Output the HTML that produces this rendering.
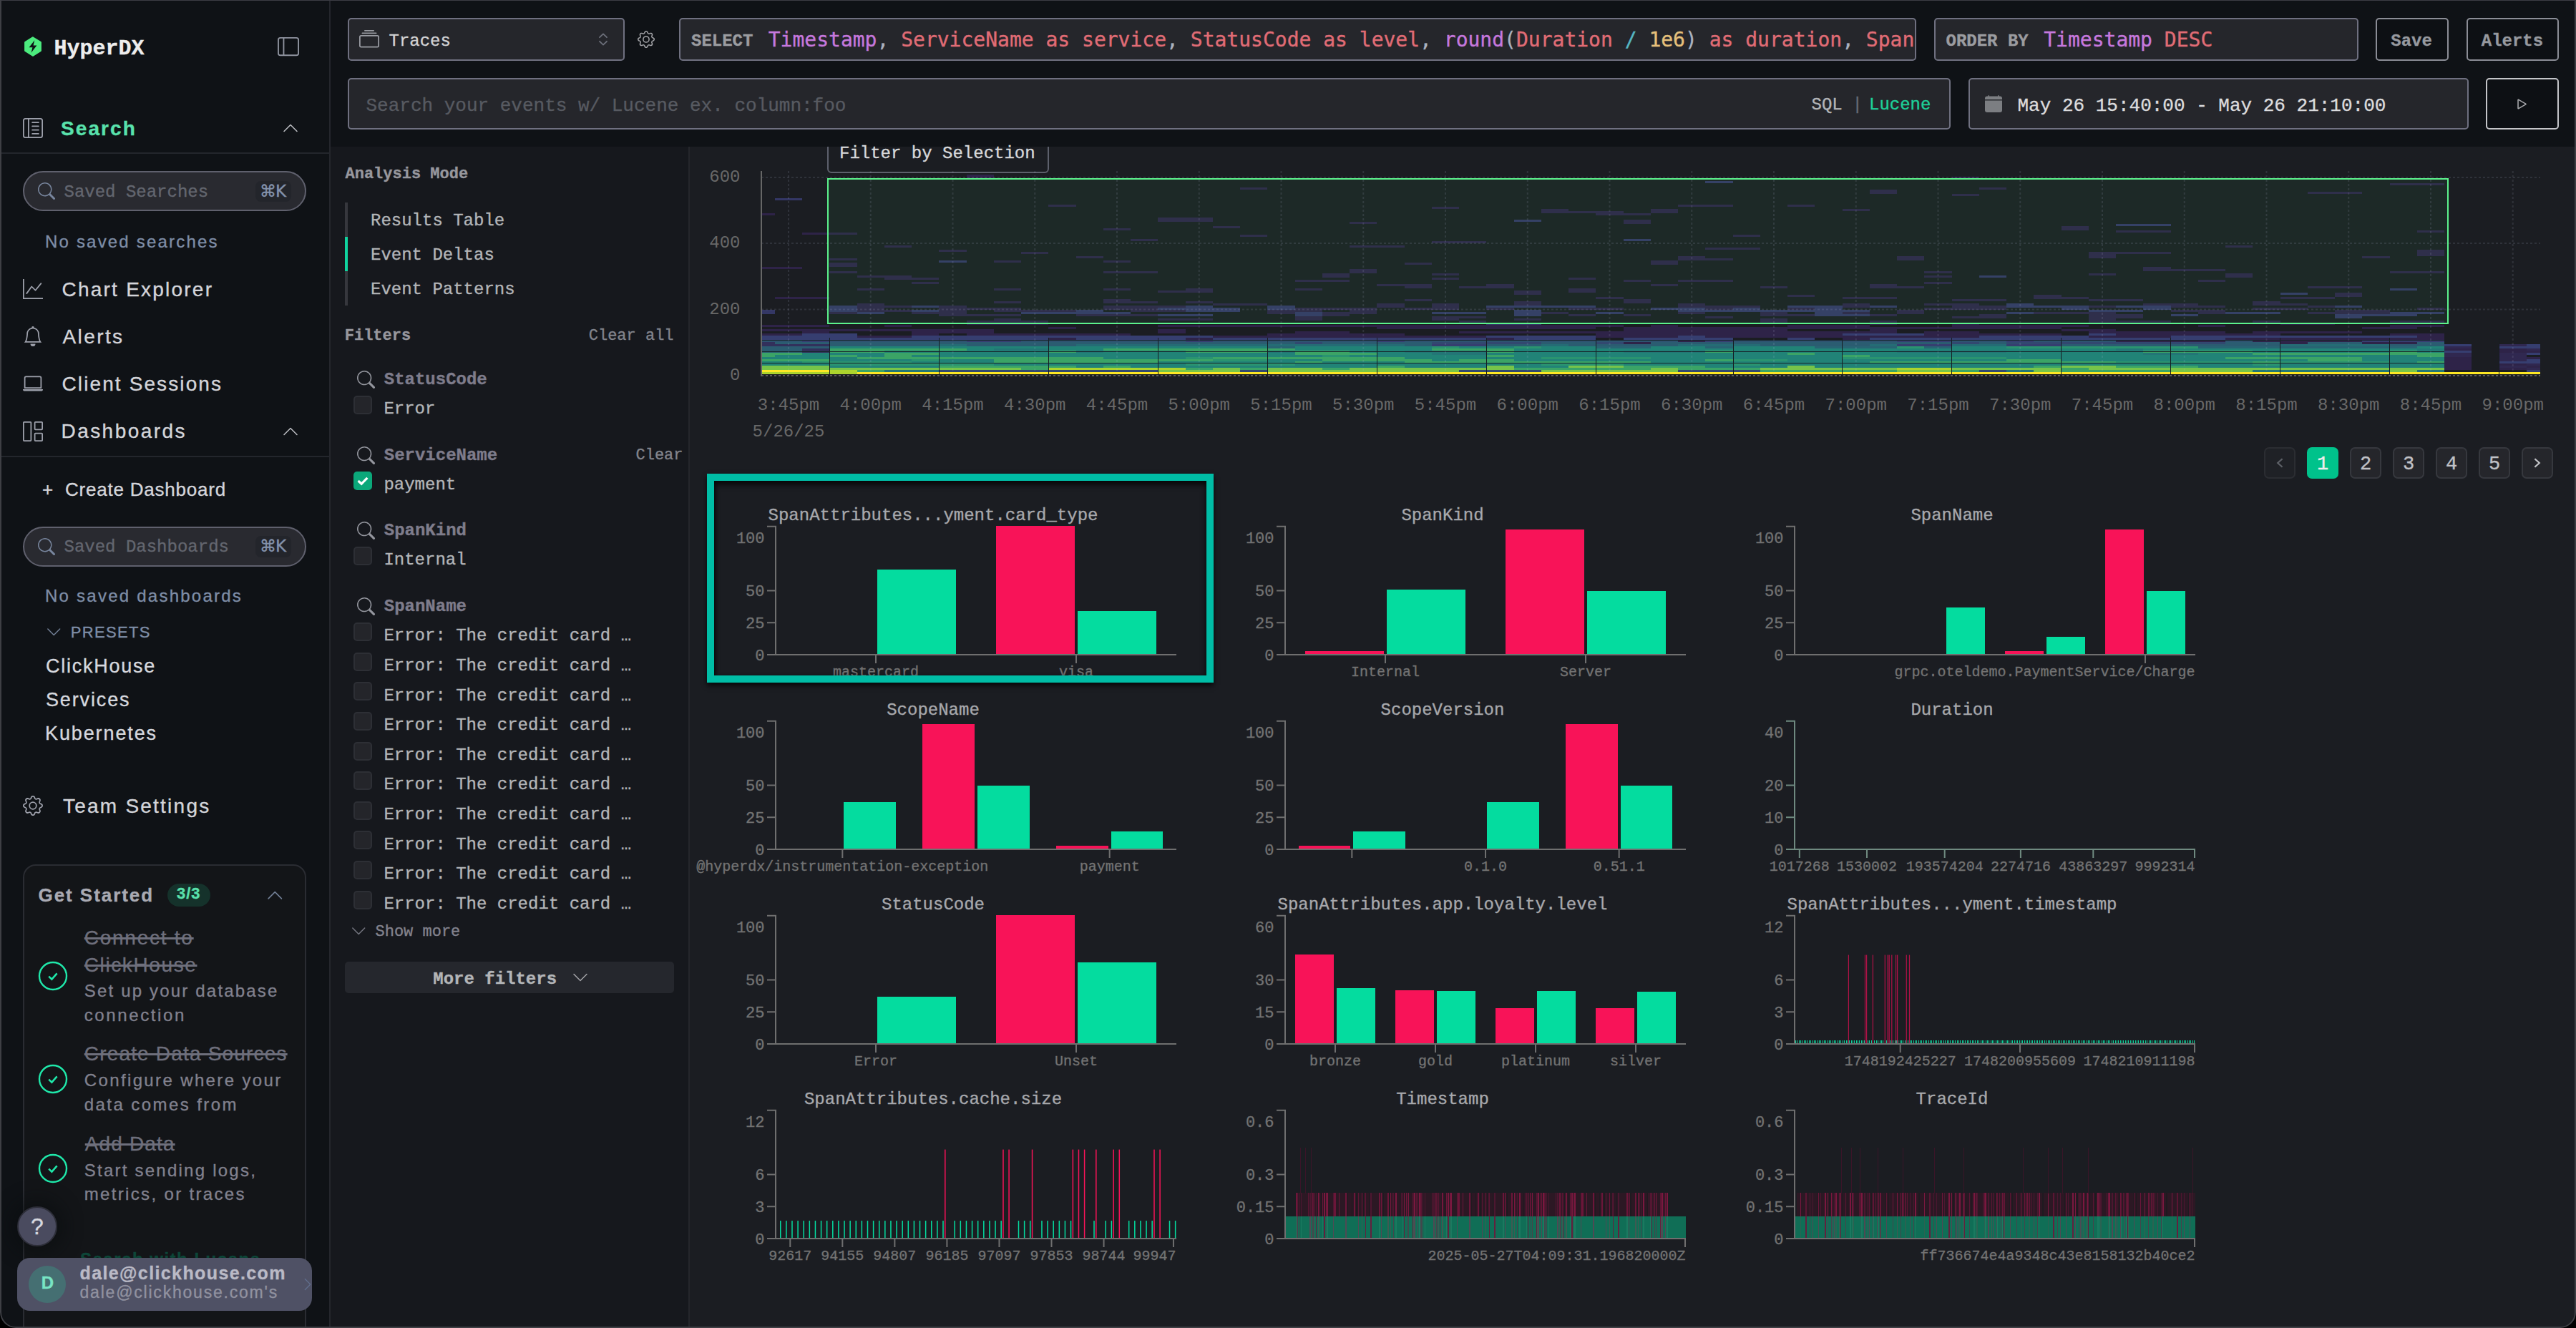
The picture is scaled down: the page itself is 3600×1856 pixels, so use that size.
<!DOCTYPE html>
<html lang="en"><head><meta charset="utf-8"><title>HyperDX - Search</title><meta name="viewport" content="width=3600"><style>
html,body{margin:0;padding:0;background:#000;}
body{width:3600px;height:1856px;overflow:hidden;position:relative;font-family:'Liberation Mono',monospace;}
#app{position:absolute;left:0;top:0;width:3600px;height:1856px;overflow:hidden;background:#0f1216;border-radius:0 0 22px 22px;}
.abs,.t,.i{position:absolute;}
.t{white-space:pre;margin:0;-webkit-text-stroke:0.35px currentColor;}
svg.ch text{stroke:currentColor;stroke-width:0.35px;fill:currentColor;}
.i{display:block;overflow:visible;}
h1,h2,h3,p{margin:0;}
#frame{position:absolute;left:0;top:-20px;width:3600px;height:1876px;box-sizing:border-box;border:2px solid #3e3f44;border-radius:22px;pointer-events:none;}
#frametop{position:absolute;left:0;top:0;width:3600px;height:1px;background:#3c3d44;}
</style></head><body><div id="app">
<aside class="abs" style="left:0;top:0;width:460px;height:1856px;background:#0f1216;">
<svg class="i" style="left:31px;top:49px" width="30" height="32" viewBox="0 0 30 32"><path d="M15 2.2 L26.1 8.9 a1.6 1.6 0 0 1 .8 1.4 V21.7 a1.6 1.6 0 0 1 -.8 1.4 L15.8 29.4 a1.6 1.6 0 0 1 -1.6 0 L3.9 23.1 a1.6 1.6 0 0 1 -.8 -1.4 V10.3 a1.6 1.6 0 0 1 .8 -1.4 L14.2 2.6 a1.6 1.6 0 0 1 1.6 0 Z" fill="#4ceb7e"/><path d="M17.3 7.2 L9.6 17.2 H14.4 L12.6 24.8 L20.4 14.6 H15.6 Z" fill="#0f1216"/></svg>
<h1 class="t" style="left:75.5px;top:53.02px;font:700 30px/30px 'Liberation Mono',monospace;color:#ededed;">HyperDX</h1>
<svg class="i" style="left:388px;top:50px;" width="30" height="30" viewBox="0 0 16 16" fill="#9094a0"><path d="M0 3a2 2 0 0 1 2-2h12a2 2 0 0 1 2 2v10a2 2 0 0 1-2 2H2a2 2 0 0 1-2-2V3zm5-1v12h9a1 1 0 0 0 1-1V3a1 1 0 0 0-1-1H5zM4 2H2a1 1 0 0 0-1 1v10a1 1 0 0 0 1 1h2V2z"/></svg>
<svg class="i" style="left:32px;top:165px;" width="28" height="28" viewBox="0 0 16 16" fill="#9ea1ac"><path d="M12.5 3a.5.5 0 0 1 0 1h-5a.5.5 0 0 1 0-1h5zm0 3a.5.5 0 0 1 0 1h-5a.5.5 0 0 1 0-1h5zm.5 3.5a.5.5 0 0 0-.5-.5h-5a.5.5 0 0 0 0 1h5a.5.5 0 0 0 .5-.5zm-.5 2.5a.5.5 0 0 1 0 1h-5a.5.5 0 0 1 0-1h5z M16 2a2 2 0 0 0-2-2H2a2 2 0 0 0-2 2v12a2 2 0 0 0 2 2h12a2 2 0 0 0 2-2V2zM4 1v14H2a1 1 0 0 1-1-1V2a1 1 0 0 1 1-1h2zm1 0h9a1 1 0 0 1 1 1v12a1 1 0 0 1-1 1H5V1z"/></svg>
<span class="t" style="left:85px;top:166.3px;font:700 28px/28px 'Liberation Sans',sans-serif;color:#59e1ac;letter-spacing:2.1px;">Search</span>
<svg class="i" style="left:394px;top:167px;" width="24" height="24" viewBox="0 0 16 16" fill="#c1c2c7" fill-rule="evenodd"><path d="M7.646 4.646a.5.5 0 0 1 .708 0l6 6a.5.5 0 0 1-.708.708L8 5.707l-5.646 5.647a.5.5 0 0 1-.708-.708l6-6z"/></svg>
<div class="abs" style="left:2px;top:213px;width:458px;height:2px;background:#23262c"></div>
<div class="abs" style="left:32px;top:239px;width:396px;height:56px;box-sizing:border-box;border:2px solid #5f606d;border-radius:28px;background:#292a30"></div>
<svg class="i" style="left:53px;top:255px;" width="24" height="24" viewBox="0 0 16 16" fill="#78869e"><path d="M11.742 10.344a6.5 6.5 0 1 0-1.397 1.398h-.001c.03.04.062.078.098.115l3.85 3.85a1 1 0 0 0 1.415-1.414l-3.85-3.85a1.007 1.007 0 0 0-.115-.1zM12 6.5a5.5 5.5 0 1 1-11 0 5.5 5.5 0 0 1 11 0z"/></svg>
<span class="t" style="left:89.5px;top:256.62px;font:400 24px/24px 'Liberation Mono',monospace;color:#63666f;">Saved Searches</span>
<div class="abs" style="left:357px;top:252.5px;width:50px;height:29.5px;border-radius:8px;background:#23252b"></div>
<span class="t" style="left:363px;top:255.54px;font:400 23px/23px 'DejaVu Sans',sans-serif;color:#8392ac;letter-spacing:-1px;">⌘K</span>
<span class="t" style="left:63px;top:325.68px;font:400 24px/24px 'Liberation Sans',sans-serif;color:#7e8da6;letter-spacing:2.19px;">No saved searches</span>
<svg class="i" style="left:32px;top:390px;" width="28" height="28" viewBox="0 0 16 16" fill="#9ea1ac"><path d="M0 0h1v15h15v1H0V0zm14.817 3.113a.5.5 0 0 1 .07.704l-4.5 5.5a.5.5 0 0 1-.74.037L7.06 6.767l-3.656 5.027a.5.5 0 0 1-.808-.588l4-5.5a.5.5 0 0 1 .758-.06l2.609 2.61 4.15-5.073a.5.5 0 0 1 .704-.07z"/></svg>
<span class="t" style="left:86.5px;top:391.3px;font:400 28px/28px 'Liberation Sans',sans-serif;color:#d4d5da;letter-spacing:2.23px;">Chart Explorer</span>
<svg class="i" style="left:32px;top:456px;" width="28" height="28" viewBox="0 0 16 16" fill="#9ea1ac"><path d="M8 16a2 2 0 0 0 2-2H6a2 2 0 0 0 2 2zM8 1.918l-.797.161A4.002 4.002 0 0 0 4 6c0 .628-.134 2.197-.459 3.742-.16.767-.376 1.566-.663 2.258h10.244c-.287-.692-.502-1.49-.663-2.258C12.134 8.197 12 6.628 12 6a4.002 4.002 0 0 0-3.203-3.92L8 1.917zM14.22 12c.223.447.481.801.78 1H1c.299-.199.557-.553.78-1C2.68 10.2 3 6.88 3 6c0-2.42 1.72-4.44 4.005-4.901a1 1 0 1 1 1.99 0A5.002 5.002 0 0 1 13 6c0 .88.32 4.2 1.22 6z"/></svg>
<span class="t" style="left:87.5px;top:457.3px;font:400 28px/28px 'Liberation Sans',sans-serif;color:#d4d5da;letter-spacing:2.4px;">Alerts</span>
<svg class="i" style="left:32px;top:522px;" width="28" height="28" viewBox="0 0 16 16" fill="#9ea1ac"><path d="M13.5 3a.5.5 0 0 1 .5.5V11H2V3.5a.5.5 0 0 1 .5-.5h11zm-11-1A1.5 1.5 0 0 0 1 3.5V12h14V3.5A1.5 1.5 0 0 0 13.5 2h-11zM0 12.5h16a1.5 1.5 0 0 1-1.5 1.5h-13A1.5 1.5 0 0 1 0 12.5z"/></svg>
<span class="t" style="left:86.5px;top:523.3px;font:400 28px/28px 'Liberation Sans',sans-serif;color:#d4d5da;letter-spacing:2.11px;">Client Sessions</span>
<svg class="i" style="left:32px;top:589px;" width="28" height="28" viewBox="0 0 16 16" fill="#9ea1ac"><path d="M6 1H1v14h5V1zm9 0h-5v5h5V1zm0 9v5h-5v-5h5zM0 1a1 1 0 0 1 1-1h5a1 1 0 0 1 1 1v14a1 1 0 0 1-1 1H1a1 1 0 0 1-1-1V1zm9 0a1 1 0 0 1 1-1h5a1 1 0 0 1 1 1v5a1 1 0 0 1-1 1h-5a1 1 0 0 1-1-1V1zm1 8a1 1 0 0 0-1 1v5a1 1 0 0 0 1 1h5a1 1 0 0 0 1-1v-5a1 1 0 0 0-1-1h-5z"/></svg>
<span class="t" style="left:85.5px;top:589.3px;font:400 28px/28px 'Liberation Sans',sans-serif;color:#d4d5da;letter-spacing:2.44px;">Dashboards</span>
<svg class="i" style="left:394px;top:590.5px;" width="24" height="24" viewBox="0 0 16 16" fill="#c1c2c7" fill-rule="evenodd"><path d="M7.646 4.646a.5.5 0 0 1 .708 0l6 6a.5.5 0 0 1-.708.708L8 5.707l-5.646 5.647a.5.5 0 0 1-.708-.708l6-6z"/></svg>
<div class="abs" style="left:2px;top:637px;width:458px;height:2px;background:#23262c"></div>
<span class="t" style="left:59px;top:670.99px;font:400 26px/26px 'Liberation Sans',sans-serif;color:#d4d5da;">+</span>
<span class="t" style="left:91px;top:671.24px;font:400 26px/26px 'Liberation Sans',sans-serif;color:#d4d5da;letter-spacing:0.78px;">Create Dashboard</span>
<div class="abs" style="left:32px;top:735.5px;width:396px;height:56px;box-sizing:border-box;border:2px solid #5f606d;border-radius:28px;background:#292a30"></div>
<svg class="i" style="left:53px;top:751.5px;" width="24" height="24" viewBox="0 0 16 16" fill="#78869e"><path d="M11.742 10.344a6.5 6.5 0 1 0-1.397 1.398h-.001c.03.04.062.078.098.115l3.85 3.85a1 1 0 0 0 1.415-1.414l-3.85-3.85a1.007 1.007 0 0 0-.115-.1zM12 6.5a5.5 5.5 0 1 1-11 0 5.5 5.5 0 0 1 11 0z"/></svg>
<span class="t" style="left:89.5px;top:753.12px;font:400 24px/24px 'Liberation Mono',monospace;color:#63666f;">Saved Dashboards</span>
<div class="abs" style="left:357px;top:749px;width:50px;height:29.5px;border-radius:8px;background:#23252b"></div>
<span class="t" style="left:363px;top:752.04px;font:400 23px/23px 'DejaVu Sans',sans-serif;color:#8392ac;letter-spacing:-1px;">⌘K</span>
<span class="t" style="left:63px;top:821.43px;font:400 24px/24px 'Liberation Sans',sans-serif;color:#7e8da6;letter-spacing:2.24px;">No saved dashboards</span>
<svg class="i" style="left:63.5px;top:871.5px;" width="22.5" height="22.5" viewBox="0 0 16 16" fill="#748299" fill-rule="evenodd"><path d="M1.646 4.646a.5.5 0 0 1 .708 0L8 10.293l5.646-5.647a.5.5 0 0 1 .708.708l-6 6a.5.5 0 0 1-.708 0l-6-6a.5.5 0 0 1 0-.708z"/></svg>
<span class="t" style="left:98.75px;top:872.63px;font:400 22px/22px 'Liberation Sans',sans-serif;color:#7e8da6;letter-spacing:1.33px;">PRESETS</span>
<span class="t" style="left:64px;top:917.89px;font:400 27px/27px 'Liberation Sans',sans-serif;color:#d6d8de;letter-spacing:1.75px;">ClickHouse</span>
<span class="t" style="left:64px;top:965.14px;font:400 27px/27px 'Liberation Sans',sans-serif;color:#d6d8de;letter-spacing:1.86px;">Services</span>
<span class="t" style="left:63px;top:1012.14px;font:400 27px/27px 'Liberation Sans',sans-serif;color:#d6d8de;letter-spacing:1.89px;">Kubernetes</span>
<svg class="i" style="left:32px;top:1112px;" width="28" height="28" viewBox="0 0 16 16" fill="#9ea1ac"><path d="M8 4.754a3.246 3.246 0 1 0 0 6.492 3.246 3.246 0 0 0 0-6.492zM5.754 8a2.246 2.246 0 1 1 4.492 0 2.246 2.246 0 0 1-4.492 0z M9.796 1.343c-.527-1.79-3.065-1.79-3.592 0l-.094.319a.873.873 0 0 1-1.255.52l-.292-.16c-1.64-.892-3.433.902-2.54 2.541l.159.292a.873.873 0 0 1-.52 1.255l-.319.094c-1.79.527-1.79 3.065 0 3.592l.319.094a.873.873 0 0 1 .52 1.255l-.16.292c-.892 1.64.901 3.434 2.541 2.54l.292-.159a.873.873 0 0 1 1.255.52l.094.319c.527 1.79 3.065 1.79 3.592 0l.094-.319a.873.873 0 0 1 1.255-.52l.292.16c1.64.893 3.434-.902 2.54-2.541l-.159-.292a.873.873 0 0 1 .52-1.255l.319-.094c1.79-.527 1.79-3.065 0-3.592l-.319-.094a.873.873 0 0 1-.52-1.255l.16-.292c.893-1.64-.902-3.433-2.541-2.54l-.292.159a.873.873 0 0 1-1.255-.52l-.094-.319zm-2.633.283c.246-.835 1.428-.835 1.674 0l.094.319a1.873 1.873 0 0 0 2.693 1.115l.291-.16c.764-.415 1.6.42 1.184 1.185l-.159.292a1.873 1.873 0 0 0 1.116 2.692l.318.094c.835.246.835 1.428 0 1.674l-.319.094a1.873 1.873 0 0 0-1.115 2.693l.16.291c.415.764-.42 1.6-1.185 1.184l-.291-.159a1.873 1.873 0 0 0-2.693 1.116l-.094.318c-.246.835-1.428.835-1.674 0l-.094-.319a1.873 1.873 0 0 0-2.692-1.115l-.292.16c-.764.415-1.6-.42-1.184-1.185l.159-.291A1.873 1.873 0 0 0 1.945 8.93l-.319-.094c-.835-.246-.835-1.428 0-1.674l.319-.094A1.873 1.873 0 0 0 3.06 4.377l-.16-.292c-.415-.764.42-1.6 1.185-1.184l.292.159a1.873 1.873 0 0 0 2.692-1.115l.094-.319z"/></svg>
<span class="t" style="left:88px;top:1113.3px;font:400 28px/28px 'Liberation Sans',sans-serif;color:#d4d5da;letter-spacing:2.23px;">Team Settings</span>
<section class="abs" style="left:32px;top:1207.5px;width:396px;height:700px;box-sizing:border-box;border:2px solid #2a2c32;border-radius:18px;background:#131518"></section>
<span class="t" style="left:53.5px;top:1237.99px;font:700 26px/26px 'Liberation Sans',sans-serif;color:#a9aab3;letter-spacing:1.95px;">Get Started</span>
<div class="abs" style="left:233.75px;top:1235px;width:60px;height:32px;border-radius:16px;background:#15322b"></div>
<span class="t" style="left:247px;top:1238.38px;font:700 22px/22px 'Liberation Sans',sans-serif;color:#59e1ac;letter-spacing:1px;">3/3</span>
<svg class="i" style="left:371.5px;top:1239px;" width="24.5" height="24.5" viewBox="0 0 16 16" fill="#748299" fill-rule="evenodd"><path d="M7.646 4.646a.5.5 0 0 1 .708 0l6 6a.5.5 0 0 1-.708.708L8 5.707l-5.646 5.647a.5.5 0 0 1-.708-.708l6-6z"/></svg>
<svg class="i" style="left:52px;top:1341.75px" width="44" height="44" viewBox="0 0 44 44"><circle cx="22" cy="22" r="19" fill="none" stroke="#1fe8aa" stroke-width="2.4"/><path d="M16.2 22.6 L20.4 26.6 L27.6 18.4" fill="none" stroke="#1fe8aa" stroke-width="2.6"/></svg>
<span class="t" style="left:117.75px;top:1296.8px;font:400 28px/28px 'Liberation Sans',sans-serif;color:#6e6f7c;letter-spacing:1.75px;text-decoration:line-through;text-decoration-thickness:2.5px;">Connect to</span>
<span class="t" style="left:117.75px;top:1335.05px;font:400 28px/28px 'Liberation Sans',sans-serif;color:#6e6f7c;letter-spacing:1.61px;text-decoration:line-through;text-decoration-thickness:2.5px;">ClickHouse</span>
<span class="t" style="left:117.75px;top:1373.43px;font:400 24px/24px 'Liberation Sans',sans-serif;color:#81818e;letter-spacing:2.18px;">Set up your database</span>
<span class="t" style="left:117.75px;top:1407.18px;font:400 24px/24px 'Liberation Sans',sans-serif;color:#81818e;letter-spacing:2.61px;">connection</span>
<svg class="i" style="left:52px;top:1485.8px" width="44" height="44" viewBox="0 0 44 44"><circle cx="22" cy="22" r="19" fill="none" stroke="#1fe8aa" stroke-width="2.4"/><path d="M16.2 22.6 L20.4 26.6 L27.6 18.4" fill="none" stroke="#1fe8aa" stroke-width="2.6"/></svg>
<span class="t" style="left:117.75px;top:1458.8px;font:400 28px/28px 'Liberation Sans',sans-serif;color:#6e6f7c;letter-spacing:1.18px;text-decoration:line-through;text-decoration-thickness:2.5px;">Create Data Sources</span>
<span class="t" style="left:117.75px;top:1498.18px;font:400 24px/24px 'Liberation Sans',sans-serif;color:#81818e;letter-spacing:2.37px;">Configure where your</span>
<span class="t" style="left:117.75px;top:1532.43px;font:400 24px/24px 'Liberation Sans',sans-serif;color:#81818e;letter-spacing:2.43px;">data comes from</span>
<svg class="i" style="left:52px;top:1611px" width="44" height="44" viewBox="0 0 44 44"><circle cx="22" cy="22" r="19" fill="none" stroke="#1fe8aa" stroke-width="2.4"/><path d="M16.2 22.6 L20.4 26.6 L27.6 18.4" fill="none" stroke="#1fe8aa" stroke-width="2.6"/></svg>
<span class="t" style="left:118.75px;top:1585.3px;font:400 28px/28px 'Liberation Sans',sans-serif;color:#6e6f7c;letter-spacing:1.14px;text-decoration:line-through;text-decoration-thickness:2.5px;">Add Data</span>
<span class="t" style="left:117.75px;top:1623.68px;font:400 24px/24px 'Liberation Sans',sans-serif;color:#81818e;letter-spacing:2.24px;">Start sending logs,</span>
<span class="t" style="left:117.75px;top:1657.43px;font:400 24px/24px 'Liberation Sans',sans-serif;color:#81818e;letter-spacing:2.34px;">metrics, or traces</span>
<div class="abs" style="left:24px;top:1686px;width:56px;height:56px;box-sizing:border-box;border:2px solid #2d2e39;border-radius:50%;background:#4a4b5f;box-shadow:0 0 24px 10px rgba(10,12,15,.55)"></div>
<span class="t" style="left:52px;top:1698.41px;font:400 32px/32px 'Liberation Sans',sans-serif;color:#d7d8df;transform:translateX(-50%);">?</span>
<span class="t" style="left:112px;top:1748.18px;font:700 24px/24px 'Liberation Sans',sans-serif;color:#0d4638;letter-spacing:1.5px;">Search with Lucene</span>
<div class="abs" style="left:24px;top:1758px;width:412px;height:74px;border-radius:18px;background:#4f5165;overflow:hidden"><div class="abs" style="left:16px;top:11px;width:52px;height:52px;border-radius:50%;background:#456f72"></div><svg class="i" style="left:396px;top:26.5px;" width="20" height="20" viewBox="0 0 16 16" fill="#606e8d" fill-rule="evenodd"><path d="M4.646 1.646a.5.5 0 0 1 .708 0l6 6a.5.5 0 0 1 0 .708l-6 6a.5.5 0 0 1-.708-.708L10.293 8 4.646 2.354a.5.5 0 0 1 0-.708z"/></svg></div>
<span class="t" style="left:57.75px;top:1781.18px;font:700 24px/24px 'Liberation Sans',sans-serif;color:#78e4c4;">D</span>
<span class="t" style="left:111.5px;top:1766.59px;font:700 25px/25px 'Liberation Sans',sans-serif;color:#babac6;letter-spacing:1.39px;">dale@clickhouse.com</span>
<span class="t" style="left:111.5px;top:1795.03px;font:400 23px/23px 'Liberation Sans',sans-serif;color:#9192a0;letter-spacing:1.79px;">dale@clickhouse.com&#x27;s</span>
</aside>
<div class="abs" style="left:460px;top:0;width:2px;height:1856px;background:#24262c"></div>
<header class="abs" style="left:462px;top:0;width:3138px;height:205px;background:#0f1216;">
</header>
<div class="abs" style="left:486px;top:25px;width:386.5px;height:60px;box-sizing:border-box;border:2px solid #6f7080;border-radius:5px;background:#25262b;overflow:hidden;"></div>
<svg class="i" style="left:502px;top:41px;" width="28" height="28" viewBox="0 0 16 16" fill="#999ba2"><path d="M2.5 3.5a.5.5 0 0 1 0-1h11a.5.5 0 0 1 0 1h-11zm2-2a.5.5 0 0 1 0-1h7a.5.5 0 0 1 0 1h-7zM0 13a1.5 1.5 0 0 0 1.5 1.5h13A1.5 1.5 0 0 0 16 13V6a1.5 1.5 0 0 0-1.5-1.5h-13A1.5 1.5 0 0 0 0 6v7zm1.5.5A.5.5 0 0 1 1 13V6a.5.5 0 0 1 .5-.5h13a.5.5 0 0 1 .5.5v7a.5.5 0 0 1-.5.5h-13z"/></svg>
<span class="t" style="left:543.5px;top:45.62px;font:400 24px/24px 'Liberation Mono',monospace;color:#d2d2d4;">Traces</span>
<svg class="i" style="left:836px;top:45px" width="14" height="20" viewBox="0 0 14 20" fill="none" stroke="#6d707b" stroke-width="1.8" stroke-linecap="round" stroke-linejoin="round"><path d="M2 7.2 L7 2.4 L12 7.2 M2 12.8 L7 17.6 L12 12.8"/></svg>
<svg class="i" style="left:891px;top:43px;" width="24" height="24" viewBox="0 0 16 16" fill="#a4a5a9"><path d="M8 4.754a3.246 3.246 0 1 0 0 6.492 3.246 3.246 0 0 0 0-6.492zM5.754 8a2.246 2.246 0 1 1 4.492 0 2.246 2.246 0 0 1-4.492 0z M9.796 1.343c-.527-1.79-3.065-1.79-3.592 0l-.094.319a.873.873 0 0 1-1.255.52l-.292-.16c-1.64-.892-3.433.902-2.54 2.541l.159.292a.873.873 0 0 1-.52 1.255l-.319.094c-1.79.527-1.79 3.065 0 3.592l.319.094a.873.873 0 0 1 .52 1.255l-.16.292c-.892 1.64.901 3.434 2.541 2.54l.292-.159a.873.873 0 0 1 1.255.52l.094.319c.527 1.79 3.065 1.79 3.592 0l.094-.319a.873.873 0 0 1 1.255-.52l.292.16c1.64.893 3.434-.902 2.54-2.541l-.159-.292a.873.873 0 0 1 .52-1.255l.319-.094c1.79-.527 1.79-3.065 0-3.592l-.319-.094a.873.873 0 0 1-.52-1.255l.16-.292c.893-1.64-.902-3.433-2.541-2.54l-.292.159a.873.873 0 0 1-1.255-.52l-.094-.319zm-2.633.283c.246-.835 1.428-.835 1.674 0l.094.319a1.873 1.873 0 0 0 2.693 1.115l.291-.16c.764-.415 1.6.42 1.184 1.185l-.159.292a1.873 1.873 0 0 0 1.116 2.692l.318.094c.835.246.835 1.428 0 1.674l-.319.094a1.873 1.873 0 0 0-1.115 2.693l.16.291c.415.764-.42 1.6-1.185 1.184l-.291-.159a1.873 1.873 0 0 0-2.693 1.116l-.094.318c-.246.835-1.428.835-1.674 0l-.094-.319a1.873 1.873 0 0 0-2.692-1.115l-.292.16c-.764.415-1.6-.42-1.184-1.185l.159-.291A1.873 1.873 0 0 0 1.945 8.93l-.319-.094c-.835-.246-.835-1.428 0-1.674l.319-.094A1.873 1.873 0 0 0 3.06 4.377l-.16-.292c-.415-.764.42-1.6 1.185-1.184l.292.159a1.873 1.873 0 0 0 2.692-1.115l.094-.319z"/></svg>
<div class="abs" style="left:949px;top:25px;width:1729px;height:60px;box-sizing:border-box;border:2px solid #6f7080;border-radius:5px;background:#25262b;overflow:hidden;"><span class="t" style="left:15px;top:18.62px;font:700 24px/24px 'Liberation Mono',monospace;color:#9b9ca0;">SELECT</span><code class="t" style="left:122.75px;top:14.81px;font:400 28px/28px 'DejaVu Sans Mono',monospace;"><span style="color:#c678dd">Timestamp</span><span style="color:#abb2bf">, </span><span style="color:#e06c75">ServiceName as service</span><span style="color:#abb2bf">, </span><span style="color:#e06c75">StatusCode as level</span><span style="color:#abb2bf">, </span><span style="color:#c678dd">round</span><span style="color:#abb2bf">(</span><span style="color:#e06c75">Duration </span><span style="color:#56b6c2">/</span><span style="color:#abb2bf"> </span><span style="color:#e5c07b">1e6</span><span style="color:#abb2bf">)</span><span style="color:#e06c75"> as duration</span><span style="color:#abb2bf">, </span><span style="color:#e06c75">SpanName</span><span style="color:#abb2bf">, </span><span style="color:#e06c75">Body</span></code></div>
<div class="abs" style="left:2702.5px;top:25px;width:593px;height:60px;box-sizing:border-box;border:2px solid #6f7080;border-radius:5px;background:#25262b;overflow:hidden;"><span class="t" style="left:15px;top:18.62px;font:700 24px/24px 'Liberation Mono',monospace;color:#9b9ca0;">ORDER BY</span><code class="t" style="left:151.75px;top:14.81px;font:400 28px/28px 'DejaVu Sans Mono',monospace;"><span style="color:#c678dd">Timestamp</span><span style="color:#abb2bf"> </span><span style="color:#e06c75">DESC</span></code></div>
<button class="abs" style="left:3320.25px;top:25px;width:101.25px;height:60px;box-sizing:border-box;border:2px solid #8b8d96;border-radius:5px;background:#0d1014;padding:0;margin:0"></button>
<span class="t" style="left:3341.25px;top:45.62px;font:700 24px/24px 'Liberation Mono',monospace;color:#96999f;">Save</span>
<button class="abs" style="left:3446.5px;top:25px;width:129px;height:60px;box-sizing:border-box;border:2px solid #8b8d96;border-radius:5px;background:#0d1014;padding:0;margin:0"></button>
<span class="t" style="left:3467.75px;top:45.62px;font:700 24px/24px 'Liberation Mono',monospace;color:#96999f;">Alerts</span>
<div class="abs" style="left:486px;top:109px;width:2239.5px;height:71.5px;box-sizing:border-box;border:2px solid #6f7080;border-radius:5px;background:#25262b;overflow:hidden;"></div>
<span class="t" style="left:511.5px;top:135.08px;font:400 26px/26px 'Liberation Mono',monospace;color:#575a61;">Search your events w/ Lucene ex. column:foo</span>
<span class="t" style="left:2531.5px;top:134.62px;font:400 24px/24px 'Liberation Mono',monospace;color:#b3b5b8;">SQL</span>
<span class="t" style="left:2588.5px;top:134.62px;font:400 24px/24px 'Liberation Mono',monospace;color:#686b74;">|</span>
<span class="t" style="left:2612px;top:134.62px;font:400 24px/24px 'Liberation Mono',monospace;color:#1ed098;">Lucene</span>
<div class="abs" style="left:2750.5px;top:109px;width:699px;height:71.5px;box-sizing:border-box;border:2px solid #6f7080;border-radius:5px;background:#25262b;overflow:hidden;"></div>
<svg class="i" style="left:2774px;top:133px;" width="24" height="24" viewBox="0 0 16 16" fill="#7c7e82"><path d="M3.5 0a.5.5 0 0 1 .5.5V1h8V.5a.5.5 0 0 1 1 0V1h1a2 2 0 0 1 2 2v1H0V3a2 2 0 0 1 2-2h1V.5a.5.5 0 0 1 .5-.5zM16 14V5H0v9a2 2 0 0 0 2 2h12a2 2 0 0 0 2-2z"/></svg>
<span class="t" style="left:2819.5px;top:135.08px;font:400 26px/26px 'Liberation Mono',monospace;color:#dbdbdd;">May 26 15:40:00 - May 26 21:10:00</span>
<button class="abs" style="left:3474.25px;top:109px;width:101.25px;height:71.5px;box-sizing:border-box;border:2px solid #c4c5c9;border-radius:5px;background:#0d1014;padding:0;margin:0"></button>
<svg class="i" style="left:3512px;top:132.5px;" width="25" height="25" viewBox="0 0 16 16" fill="#a7a8ac"><path d="M10.804 8 5 4.633v6.734L10.804 8zm.792-.696a.802.802 0 0 1 0 1.392l-6.363 3.692C4.713 12.69 4 12.345 4 11.692V4.308c0-.653.713-.998 1.233-.696l6.363 3.692z"/></svg>
<nav class="abs" style="left:462px;top:205px;width:500px;height:1651px;background:#16181d;"></nav>
<div class="abs" style="left:962px;top:205px;width:2px;height:1651px;background:#25262b"></div>
<span class="t" style="left:482.5px;top:233.15px;font:700 22px/22px 'Liberation Mono',monospace;color:#97979d;">Analysis Mode</span>
<div class="abs" style="left:482px;top:283px;width:4px;height:144px;background:#36373d"></div>
<div class="abs" style="left:482px;top:331px;width:4px;height:48px;background:#10d49f"></div>
<span class="t" style="left:518px;top:297.37px;font:400 24px/24px 'Liberation Mono',monospace;color:#b3b5b8;">Results Table</span>
<span class="t" style="left:518px;top:345.37px;font:400 24px/24px 'Liberation Mono',monospace;color:#b3b5b8;">Event Deltas</span>
<span class="t" style="left:518px;top:393.37px;font:400 24px/24px 'Liberation Mono',monospace;color:#b3b5b8;">Event Patterns</span>
<span class="t" style="left:481.75px;top:458.65px;font:700 22px/22px 'Liberation Mono',monospace;color:#97979d;">Filters</span>
<span class="t" style="left:822.75px;top:458.65px;font:400 22px/22px 'Liberation Mono',monospace;color:#82848c;">Clear all</span>
<svg class="i" style="left:498.5px;top:518px;" width="25" height="25" viewBox="0 0 16 16" fill="#94969e"><path d="M11.742 10.344a6.5 6.5 0 1 0-1.397 1.398h-.001c.03.04.062.078.098.115l3.85 3.85a1 1 0 0 0 1.415-1.414l-3.85-3.85a1.007 1.007 0 0 0-.115-.1zM12 6.5a5.5 5.5 0 1 1-11 0 5.5 5.5 0 0 1 11 0z"/></svg>
<span class="t" style="left:536.75px;top:519.12px;font:700 24px/24px 'Liberation Mono',monospace;color:#7e7c8b;">StatusCode</span>
<div class="abs" style="left:494px;top:553.25px;width:26px;height:26px;box-sizing:border-box;border-radius:5px;background:#24252a;border:2px solid #2d2f35"></div>
<span class="t" style="left:536.4px;top:560.37px;font:400 24px/24px 'Liberation Mono',monospace;color:#b3b5b8;">Error</span>
<svg class="i" style="left:498.5px;top:623.75px;" width="25" height="25" viewBox="0 0 16 16" fill="#94969e"><path d="M11.742 10.344a6.5 6.5 0 1 0-1.397 1.398h-.001c.03.04.062.078.098.115l3.85 3.85a1 1 0 0 0 1.415-1.414l-3.85-3.85a1.007 1.007 0 0 0-.115-.1zM12 6.5a5.5 5.5 0 1 1-11 0 5.5 5.5 0 0 1 11 0z"/></svg>
<span class="t" style="left:536.75px;top:624.87px;font:700 24px/24px 'Liberation Mono',monospace;color:#7e7c8b;">ServiceName</span>
<span class="t" style="left:888.5px;top:626.4px;font:400 22px/22px 'Liberation Mono',monospace;color:#82848c;">Clear</span>
<div class="abs" style="left:494px;top:659px;width:26px;height:26px;border-radius:5px;background:#0ba87a"></div>
<svg class="i" style="left:494px;top:659px" width="26" height="26" viewBox="0 0 26 26"><path d="M6.6 13 L11.2 17.2 L19.4 8.8" fill="none" stroke="#fff" stroke-width="3.2" stroke-linejoin="miter"/></svg>
<span class="t" style="left:536.4px;top:666.12px;font:400 24px/24px 'Liberation Mono',monospace;color:#b3b5b8;">payment</span>
<svg class="i" style="left:498.5px;top:729px;" width="25" height="25" viewBox="0 0 16 16" fill="#94969e"><path d="M11.742 10.344a6.5 6.5 0 1 0-1.397 1.398h-.001c.03.04.062.078.098.115l3.85 3.85a1 1 0 0 0 1.415-1.414l-3.85-3.85a1.007 1.007 0 0 0-.115-.1zM12 6.5a5.5 5.5 0 1 1-11 0 5.5 5.5 0 0 1 11 0z"/></svg>
<span class="t" style="left:536.75px;top:730.12px;font:700 24px/24px 'Liberation Mono',monospace;color:#7e7c8b;">SpanKind</span>
<div class="abs" style="left:494px;top:764px;width:26px;height:26px;box-sizing:border-box;border-radius:5px;background:#24252a;border:2px solid #2d2f35"></div>
<span class="t" style="left:536.4px;top:771.12px;font:400 24px/24px 'Liberation Mono',monospace;color:#b3b5b8;">Internal</span>
<svg class="i" style="left:498.5px;top:835px;" width="25" height="25" viewBox="0 0 16 16" fill="#94969e"><path d="M11.742 10.344a6.5 6.5 0 1 0-1.397 1.398h-.001c.03.04.062.078.098.115l3.85 3.85a1 1 0 0 0 1.415-1.414l-3.85-3.85a1.007 1.007 0 0 0-.115-.1zM12 6.5a5.5 5.5 0 1 1-11 0 5.5 5.5 0 0 1 11 0z"/></svg>
<span class="t" style="left:536.75px;top:836.12px;font:700 24px/24px 'Liberation Mono',monospace;color:#7e7c8b;">SpanName</span>
<div class="abs" style="left:494px;top:870.25px;width:26px;height:26px;box-sizing:border-box;border-radius:5px;background:#24252a;border:2px solid #2d2f35"></div>
<span class="t" style="left:536.4px;top:877.37px;font:400 24px/24px 'Liberation Mono',monospace;color:#b3b5b8;">Error: The credit card …</span>
<div class="abs" style="left:494px;top:911.85px;width:26px;height:26px;box-sizing:border-box;border-radius:5px;background:#24252a;border:2px solid #2d2f35"></div>
<span class="t" style="left:536.4px;top:918.97px;font:400 24px/24px 'Liberation Mono',monospace;color:#b3b5b8;">Error: The credit card …</span>
<div class="abs" style="left:494px;top:953.45px;width:26px;height:26px;box-sizing:border-box;border-radius:5px;background:#24252a;border:2px solid #2d2f35"></div>
<span class="t" style="left:536.4px;top:960.57px;font:400 24px/24px 'Liberation Mono',monospace;color:#b3b5b8;">Error: The credit card …</span>
<div class="abs" style="left:494px;top:995.05px;width:26px;height:26px;box-sizing:border-box;border-radius:5px;background:#24252a;border:2px solid #2d2f35"></div>
<span class="t" style="left:536.4px;top:1002.17px;font:400 24px/24px 'Liberation Mono',monospace;color:#b3b5b8;">Error: The credit card …</span>
<div class="abs" style="left:494px;top:1036.65px;width:26px;height:26px;box-sizing:border-box;border-radius:5px;background:#24252a;border:2px solid #2d2f35"></div>
<span class="t" style="left:536.4px;top:1043.77px;font:400 24px/24px 'Liberation Mono',monospace;color:#b3b5b8;">Error: The credit card …</span>
<div class="abs" style="left:494px;top:1078.25px;width:26px;height:26px;box-sizing:border-box;border-radius:5px;background:#24252a;border:2px solid #2d2f35"></div>
<span class="t" style="left:536.4px;top:1085.37px;font:400 24px/24px 'Liberation Mono',monospace;color:#b3b5b8;">Error: The credit card …</span>
<div class="abs" style="left:494px;top:1119.85px;width:26px;height:26px;box-sizing:border-box;border-radius:5px;background:#24252a;border:2px solid #2d2f35"></div>
<span class="t" style="left:536.4px;top:1126.97px;font:400 24px/24px 'Liberation Mono',monospace;color:#b3b5b8;">Error: The credit card …</span>
<div class="abs" style="left:494px;top:1161.45px;width:26px;height:26px;box-sizing:border-box;border-radius:5px;background:#24252a;border:2px solid #2d2f35"></div>
<span class="t" style="left:536.4px;top:1168.57px;font:400 24px/24px 'Liberation Mono',monospace;color:#b3b5b8;">Error: The credit card …</span>
<div class="abs" style="left:494px;top:1203.05px;width:26px;height:26px;box-sizing:border-box;border-radius:5px;background:#24252a;border:2px solid #2d2f35"></div>
<span class="t" style="left:536.4px;top:1210.17px;font:400 24px/24px 'Liberation Mono',monospace;color:#b3b5b8;">Error: The credit card …</span>
<div class="abs" style="left:494px;top:1244.65px;width:26px;height:26px;box-sizing:border-box;border-radius:5px;background:#24252a;border:2px solid #2d2f35"></div>
<span class="t" style="left:536.4px;top:1251.77px;font:400 24px/24px 'Liberation Mono',monospace;color:#b3b5b8;">Error: The credit card …</span>
<svg class="i" style="left:490px;top:1290px;" width="22.5" height="22.5" viewBox="0 0 16 16" fill="#777883" fill-rule="evenodd"><path d="M1.646 4.646a.5.5 0 0 1 .708 0L8 10.293l5.646-5.647a.5.5 0 0 1 .708.708l-6 6a.5.5 0 0 1-.708 0l-6-6a.5.5 0 0 1 0-.708z"/></svg>
<span class="t" style="left:524.5px;top:1292.4px;font:400 22px/22px 'Liberation Mono',monospace;color:#82828d;">Show more</span>
<div class="abs" style="left:482px;top:1344px;width:460px;height:44px;border-radius:5px;background:#25272d"></div>
<span class="t" style="left:605.25px;top:1356.62px;font:700 24px/24px 'Liberation Mono',monospace;color:#b3b5b8;">More filters</span>
<svg class="i" style="left:798.75px;top:1354px;" width="24" height="24" viewBox="0 0 16 16" fill="#a4a5a9" fill-rule="evenodd"><path d="M1.646 4.646a.5.5 0 0 1 .708 0L8 10.293l5.646-5.647a.5.5 0 0 1 .708.708l-6 6a.5.5 0 0 1-.708 0l-6-6a.5.5 0 0 1 0-.708z"/></svg>
<main class="abs" style="left:964px;top:205px;width:2636px;height:1651px;background:#1b1d22;"></main>
<div class="abs" style="left:964px;top:205px;width:2636px;height:60px;overflow:hidden"><button class="abs" style="left:192px;top:-14px;width:310px;height:50.5px;box-sizing:border-box;border:2px solid #5d606c;border-radius:6px;background:#1b1d22;padding:0;margin:0"></button></div>
<span class="t" style="left:1173px;top:203.37px;font:400 24px/24px 'Liberation Mono',monospace;color:#d7d8da;">Filter by Selection</span>
<svg class="i" style="left:0;top:0" width="3600" height="640" viewBox="0 0 3600 640" font-family="'Liberation Mono',monospace" font-size="24" fill="#686868"><g shape-rendering="crispEdges"><rect x="1064" y="520" width="133.62" height="3" fill="#acd42d"/><rect x="1197.62" y="520" width="2352.38" height="3" fill="#fde725"/><rect x="1064" y="517" width="95.38" height="3" fill="#fde725"/><rect x="1159.38" y="517" width="38.25" height="3" fill="#acd42d"/><rect x="1197.62" y="517" width="38.25" height="3" fill="#3ba466"/><rect x="1235.88" y="517" width="76.5" height="3" fill="#237676"/><rect x="1312.38" y="517" width="306" height="3" fill="#324870"/><rect x="1618.38" y="517" width="114.75" height="3" fill="#77c449"/><rect x="1733.12" y="517" width="38.25" height="3" fill="#324870"/><rect x="1771.38" y="517" width="267.75" height="3" fill="#77c449"/><rect x="2039.12" y="517" width="114.75" height="3" fill="#324870"/><rect x="2153.88" y="517" width="191.25" height="3" fill="#77c449"/><rect x="2345.12" y="517" width="114.75" height="3" fill="#324870"/><rect x="2459.88" y="517" width="191.25" height="3" fill="#3ba466"/><rect x="2651.12" y="517" width="76.5" height="3" fill="#77c449"/><rect x="2727.62" y="517" width="38.25" height="3" fill="#3ba466"/><rect x="2765.88" y="517" width="38.25" height="3" fill="#324870"/><rect x="2804.12" y="517" width="38.25" height="3" fill="#237676"/><rect x="2842.38" y="517" width="38.25" height="3" fill="#77c449"/><rect x="2880.62" y="517" width="153" height="3" fill="#3ba466"/><rect x="3033.62" y="517" width="114.75" height="3" fill="#77c449"/><rect x="3148.38" y="517" width="191.25" height="3" fill="#237676"/><rect x="3339.62" y="517" width="38.25" height="3" fill="#77c449"/><rect x="3377.88" y="517" width="38.25" height="3" fill="#237676"/><rect x="3530.88" y="517" width="19.12" height="3" fill="#363e70"/><rect x="1064" y="514" width="363.12" height="3" fill="#77c449"/><rect x="1427.12" y="514" width="38.25" height="3" fill="#3ba466"/><rect x="1465.38" y="514" width="191.25" height="3" fill="#acd42d"/><rect x="1656.62" y="514" width="38.25" height="3" fill="#3ba466"/><rect x="1694.88" y="514" width="38.25" height="3" fill="#77c449"/><rect x="1733.12" y="514" width="38.25" height="3" fill="#3ba466"/><rect x="1771.38" y="514" width="76.5" height="3" fill="#77c449"/><rect x="1847.88" y="514" width="38.25" height="3" fill="#3ba466"/><rect x="1886.12" y="514" width="229.5" height="3" fill="#77c449"/><rect x="2115.62" y="514" width="191.25" height="3" fill="#3ba466"/><rect x="2306.88" y="514" width="38.25" height="3" fill="#77c449"/><rect x="2345.12" y="514" width="114.75" height="3" fill="#3ba466"/><rect x="2459.88" y="514" width="191.25" height="3" fill="#77c449"/><rect x="2651.12" y="514" width="76.5" height="3" fill="#acd42d"/><rect x="2727.62" y="514" width="153" height="3" fill="#77c449"/><rect x="2880.62" y="514" width="38.25" height="3" fill="#3ba466"/><rect x="2918.88" y="514" width="497.25" height="3" fill="#77c449"/><rect x="3416.12" y="514" width="38.25" height="3" fill="#2e2348"/><rect x="3492.62" y="514" width="38.25" height="3" fill="#2e2348"/><rect x="3530.88" y="514" width="19.12" height="3" fill="#302850"/><rect x="1064" y="511" width="95.38" height="3" fill="#77c449"/><rect x="1159.38" y="511" width="153" height="3" fill="#218377"/><rect x="1312.38" y="511" width="191.25" height="3" fill="#3ba466"/><rect x="1503.62" y="511" width="38.25" height="3" fill="#218377"/><rect x="1541.88" y="511" width="38.25" height="3" fill="#3ba466"/><rect x="1580.12" y="511" width="344.25" height="3" fill="#218377"/><rect x="1924.38" y="511" width="38.25" height="3" fill="#3ba466"/><rect x="1962.62" y="511" width="114.75" height="3" fill="#218377"/><rect x="2077.38" y="511" width="38.25" height="3" fill="#77c449"/><rect x="2115.62" y="511" width="76.5" height="3" fill="#218377"/><rect x="2192.12" y="511" width="76.5" height="3" fill="#77c449"/><rect x="2268.62" y="511" width="114.75" height="3" fill="#3ba466"/><rect x="2383.38" y="511" width="114.75" height="3" fill="#218377"/><rect x="2498.12" y="511" width="38.25" height="3" fill="#77c449"/><rect x="2536.38" y="511" width="306" height="3" fill="#218377"/><rect x="2842.38" y="511" width="38.25" height="3" fill="#3ba466"/><rect x="2880.62" y="511" width="76.5" height="3" fill="#77c449"/><rect x="2957.12" y="511" width="114.75" height="3" fill="#3ba466"/><rect x="3071.88" y="511" width="344.25" height="3" fill="#218377"/><rect x="3416.12" y="511" width="38.25" height="3" fill="#2e2348"/><rect x="3492.62" y="511" width="38.25" height="3" fill="#302850"/><rect x="3530.88" y="511" width="19.12" height="3" fill="#2e2348"/><rect x="1064" y="508" width="95.38" height="3" fill="#218377"/><rect x="1159.38" y="508" width="229.5" height="3" fill="#2a9470"/><rect x="1388.88" y="508" width="267.75" height="3" fill="#218377"/><rect x="1656.62" y="508" width="153" height="3" fill="#2a9470"/><rect x="1809.62" y="508" width="344.25" height="3" fill="#218377"/><rect x="2153.88" y="508" width="114.75" height="3" fill="#2a9470"/><rect x="2268.62" y="508" width="153" height="3" fill="#218377"/><rect x="2421.62" y="508" width="38.25" height="3" fill="#2a9470"/><rect x="2459.88" y="508" width="688.5" height="3" fill="#218377"/><rect x="3148.38" y="508" width="38.25" height="3" fill="#2a9470"/><rect x="3186.62" y="508" width="229.5" height="3" fill="#218377"/><rect x="3416.12" y="508" width="38.25" height="3" fill="#2e2348"/><rect x="3492.62" y="508" width="38.25" height="3" fill="#2e2348"/><rect x="3530.88" y="508" width="19.12" height="3" fill="#302850"/><rect x="1064" y="505" width="57.12" height="3" fill="#218377"/><rect x="1121.12" y="505" width="153" height="3" fill="#2a9470"/><rect x="1274.12" y="505" width="114.75" height="3" fill="#218377"/><rect x="1388.88" y="505" width="229.5" height="3" fill="#3ba466"/><rect x="1618.38" y="505" width="191.25" height="3" fill="#218377"/><rect x="1809.62" y="505" width="38.25" height="3" fill="#3ba466"/><rect x="1847.88" y="505" width="114.75" height="3" fill="#218377"/><rect x="1962.62" y="505" width="344.25" height="3" fill="#3ba466"/><rect x="2306.88" y="505" width="306" height="3" fill="#218377"/><rect x="2612.88" y="505" width="344.25" height="3" fill="#3ba466"/><rect x="2957.12" y="505" width="191.25" height="3" fill="#2a9470"/><rect x="3148.38" y="505" width="38.25" height="3" fill="#3ba466"/><rect x="3186.62" y="505" width="153" height="3" fill="#2a9470"/><rect x="3339.62" y="505" width="38.25" height="3" fill="#218377"/><rect x="3377.88" y="505" width="38.25" height="3" fill="#3ba466"/><rect x="3416.12" y="505" width="38.25" height="3" fill="#2e2348"/><rect x="3492.62" y="505" width="57.38" height="3" fill="#363e70"/><rect x="1064" y="502" width="95.38" height="3" fill="#3ba466"/><rect x="1159.38" y="502" width="114.75" height="3" fill="#218377"/><rect x="1274.12" y="502" width="38.25" height="3" fill="#2a9470"/><rect x="1312.38" y="502" width="76.5" height="3" fill="#218377"/><rect x="1388.88" y="502" width="306" height="3" fill="#3ba466"/><rect x="1694.88" y="502" width="76.5" height="3" fill="#2a9470"/><rect x="1771.38" y="502" width="76.5" height="3" fill="#218377"/><rect x="1847.88" y="502" width="153" height="3" fill="#3ba466"/><rect x="2000.88" y="502" width="38.25" height="3" fill="#218377"/><rect x="2039.12" y="502" width="76.5" height="3" fill="#3ba466"/><rect x="2115.62" y="502" width="267.75" height="3" fill="#218377"/><rect x="2383.38" y="502" width="38.25" height="3" fill="#3ba466"/><rect x="2421.62" y="502" width="76.5" height="3" fill="#2a9470"/><rect x="2498.12" y="502" width="306" height="3" fill="#218377"/><rect x="2804.12" y="502" width="76.5" height="3" fill="#3ba466"/><rect x="2880.62" y="502" width="344.25" height="3" fill="#218377"/><rect x="3224.88" y="502" width="76.5" height="3" fill="#3ba466"/><rect x="3301.38" y="502" width="114.75" height="3" fill="#218377"/><rect x="3416.12" y="502" width="38.25" height="3" fill="#2e2348"/><rect x="3492.62" y="502" width="38.25" height="3" fill="#302850"/><rect x="3530.88" y="502" width="19.12" height="3" fill="#363e70"/><rect x="1064" y="499" width="133.62" height="3" fill="#218377"/><rect x="1197.62" y="499" width="344.25" height="3" fill="#3ba466"/><rect x="1541.88" y="499" width="114.75" height="3" fill="#218377"/><rect x="1656.62" y="499" width="38.25" height="3" fill="#2a9470"/><rect x="1694.88" y="499" width="267.75" height="3" fill="#3ba466"/><rect x="1962.62" y="499" width="191.25" height="3" fill="#218377"/><rect x="2153.88" y="499" width="153" height="3" fill="#2a9470"/><rect x="2306.88" y="499" width="267.75" height="3" fill="#218377"/><rect x="2574.62" y="499" width="229.5" height="3" fill="#2a9470"/><rect x="2804.12" y="499" width="306" height="3" fill="#218377"/><rect x="3110.12" y="499" width="191.25" height="3" fill="#3ba466"/><rect x="3301.38" y="499" width="114.75" height="3" fill="#218377"/><rect x="3416.12" y="499" width="38.25" height="3" fill="#2e2348"/><rect x="3492.62" y="499" width="38.25" height="3" fill="#302850"/><rect x="3530.88" y="499" width="19.12" height="3" fill="#2e2348"/><rect x="1064" y="496" width="18.88" height="3" fill="#3ba466"/><rect x="1082.88" y="496" width="76.5" height="3" fill="#218377"/><rect x="1159.38" y="496" width="38.25" height="3" fill="#3ba466"/><rect x="1197.62" y="496" width="38.25" height="3" fill="#218377"/><rect x="1235.88" y="496" width="38.25" height="3" fill="#3ba466"/><rect x="1274.12" y="496" width="573.75" height="3" fill="#218377"/><rect x="1847.88" y="496" width="38.25" height="3" fill="#2a9470"/><rect x="1886.12" y="496" width="191.25" height="3" fill="#218377"/><rect x="2077.38" y="496" width="38.25" height="3" fill="#3ba466"/><rect x="2115.62" y="496" width="459" height="3" fill="#218377"/><rect x="2574.62" y="496" width="38.25" height="3" fill="#3ba466"/><rect x="2612.88" y="496" width="765" height="3" fill="#218377"/><rect x="3377.88" y="496" width="38.25" height="3" fill="#3ba466"/><rect x="3416.12" y="496" width="38.25" height="3" fill="#302850"/><rect x="3492.62" y="496" width="38.25" height="3" fill="#302850"/><rect x="1064" y="493" width="57.12" height="3" fill="#3ba466"/><rect x="1121.12" y="493" width="114.75" height="3" fill="#218377"/><rect x="1235.88" y="493" width="76.5" height="3" fill="#3ba466"/><rect x="1312.38" y="493" width="497.25" height="3" fill="#218377"/><rect x="1809.62" y="493" width="114.75" height="3" fill="#3ba466"/><rect x="1924.38" y="493" width="76.5" height="3" fill="#218377"/><rect x="2000.88" y="493" width="76.5" height="3" fill="#237676"/><rect x="2077.38" y="493" width="420.75" height="3" fill="#218377"/><rect x="2498.12" y="493" width="38.25" height="3" fill="#3ba466"/><rect x="2536.38" y="493" width="459" height="3" fill="#218377"/><rect x="2995.38" y="493" width="76.5" height="3" fill="#237676"/><rect x="3071.88" y="493" width="76.5" height="3" fill="#218377"/><rect x="3148.38" y="493" width="267.75" height="3" fill="#3ba466"/><rect x="3416.12" y="493" width="38.25" height="3" fill="#302850"/><rect x="3492.62" y="493" width="38.25" height="3" fill="#302850"/><rect x="3530.88" y="493" width="19.12" height="3" fill="#363e70"/><rect x="1064" y="490" width="57.12" height="3" fill="#2b5c71"/><rect x="1121.12" y="490" width="38.25" height="3" fill="#32305b"/><rect x="1159.38" y="490" width="76.5" height="3" fill="#3ba466"/><rect x="1235.88" y="490" width="229.5" height="3" fill="#218377"/><rect x="1465.38" y="490" width="38.25" height="3" fill="#3ba466"/><rect x="1503.62" y="490" width="38.25" height="3" fill="#237676"/><rect x="1541.88" y="490" width="114.75" height="3" fill="#218377"/><rect x="1656.62" y="490" width="114.75" height="3" fill="#3ba466"/><rect x="1771.38" y="490" width="38.25" height="3" fill="#237676"/><rect x="1809.62" y="490" width="76.5" height="3" fill="#3ba466"/><rect x="1886.12" y="490" width="76.5" height="3" fill="#218377"/><rect x="1962.62" y="490" width="114.75" height="3" fill="#237676"/><rect x="2077.38" y="490" width="38.25" height="3" fill="#3ba466"/><rect x="2115.62" y="490" width="153" height="3" fill="#218377"/><rect x="2268.62" y="490" width="114.75" height="3" fill="#237676"/><rect x="2383.38" y="490" width="38.25" height="3" fill="#3ba466"/><rect x="2421.62" y="490" width="229.5" height="3" fill="#218377"/><rect x="2651.12" y="490" width="153" height="3" fill="#237676"/><rect x="2804.12" y="490" width="191.25" height="3" fill="#218377"/><rect x="2995.38" y="490" width="153" height="3" fill="#3ba466"/><rect x="3148.38" y="490" width="191.25" height="3" fill="#218377"/><rect x="3339.62" y="490" width="38.25" height="3" fill="#3ba466"/><rect x="3377.88" y="490" width="38.25" height="3" fill="#218377"/><rect x="3416.12" y="490" width="38.25" height="3" fill="#363e70"/><rect x="3492.62" y="490" width="57.38" height="3" fill="#2e2348"/><rect x="1064" y="487" width="57.12" height="3" fill="#2b5c71"/><rect x="1121.12" y="487" width="38.25" height="3" fill="#32305b"/><rect x="1159.38" y="487" width="191.25" height="3" fill="#3ba466"/><rect x="1350.62" y="487" width="38.25" height="3" fill="#218377"/><rect x="1388.88" y="487" width="76.5" height="3" fill="#237676"/><rect x="1465.38" y="487" width="76.5" height="3" fill="#218377"/><rect x="1541.88" y="487" width="267.75" height="3" fill="#3ba466"/><rect x="1809.62" y="487" width="191.25" height="3" fill="#218377"/><rect x="2000.88" y="487" width="114.75" height="3" fill="#3ba466"/><rect x="2115.62" y="487" width="841.5" height="3" fill="#218377"/><rect x="2957.12" y="487" width="38.25" height="3" fill="#237676"/><rect x="2995.38" y="487" width="382.5" height="3" fill="#218377"/><rect x="3377.88" y="487" width="38.25" height="3" fill="#237676"/><rect x="3416.12" y="487" width="38.25" height="3" fill="#2e2348"/><rect x="3492.62" y="487" width="38.25" height="3" fill="#2e2348"/><rect x="3530.88" y="487" width="19.12" height="3" fill="#302850"/><rect x="1064" y="484" width="95.38" height="3" fill="#2b5c71"/><rect x="1159.38" y="484" width="612" height="3" fill="#218377"/><rect x="1771.38" y="484" width="38.25" height="3" fill="#286473"/><rect x="1809.62" y="484" width="191.25" height="3" fill="#218377"/><rect x="2000.88" y="484" width="38.25" height="3" fill="#2a9470"/><rect x="2039.12" y="484" width="76.5" height="3" fill="#218377"/><rect x="2115.62" y="484" width="38.25" height="3" fill="#2a9470"/><rect x="2153.88" y="484" width="76.5" height="3" fill="#218377"/><rect x="2230.38" y="484" width="76.5" height="3" fill="#286473"/><rect x="2306.88" y="484" width="76.5" height="3" fill="#218377"/><rect x="2383.38" y="484" width="38.25" height="3" fill="#286473"/><rect x="2421.62" y="484" width="114.75" height="3" fill="#218377"/><rect x="2536.38" y="484" width="114.75" height="3" fill="#286473"/><rect x="2651.12" y="484" width="38.25" height="3" fill="#2a9470"/><rect x="2689.38" y="484" width="38.25" height="3" fill="#286473"/><rect x="2727.62" y="484" width="76.5" height="3" fill="#218377"/><rect x="2804.12" y="484" width="267.75" height="3" fill="#2a9470"/><rect x="3071.88" y="484" width="306" height="3" fill="#286473"/><rect x="3377.88" y="484" width="38.25" height="3" fill="#218377"/><rect x="3416.12" y="484" width="38.25" height="3" fill="#302850"/><rect x="3492.62" y="484" width="57.38" height="3" fill="#363e70"/><rect x="1064" y="481" width="95.38" height="3" fill="#32305b"/><rect x="1159.38" y="481" width="153" height="3" fill="#2b5c71"/><rect x="1312.38" y="481" width="38.25" height="3" fill="#256c75"/><rect x="1350.62" y="481" width="153" height="3" fill="#2b5c71"/><rect x="1503.62" y="481" width="459" height="3" fill="#256c75"/><rect x="1962.62" y="481" width="38.25" height="3" fill="#2b5c71"/><rect x="2000.88" y="481" width="76.5" height="3" fill="#363e70"/><rect x="2077.38" y="481" width="76.5" height="3" fill="#2b5c71"/><rect x="2153.88" y="481" width="38.25" height="3" fill="#256c75"/><rect x="2192.12" y="481" width="153" height="3" fill="#2b5c71"/><rect x="2345.12" y="481" width="114.75" height="3" fill="#256c75"/><rect x="2459.88" y="481" width="153" height="3" fill="#2b5c71"/><rect x="2612.88" y="481" width="38.25" height="3" fill="#256c75"/><rect x="2651.12" y="481" width="76.5" height="3" fill="#363e70"/><rect x="2727.62" y="481" width="76.5" height="3" fill="#256c75"/><rect x="2804.12" y="481" width="76.5" height="3" fill="#363e70"/><rect x="2880.62" y="481" width="306" height="3" fill="#2b5c71"/><rect x="3186.62" y="481" width="153" height="3" fill="#256c75"/><rect x="3339.62" y="481" width="76.5" height="3" fill="#2b5c71"/><rect x="3416.12" y="481" width="38.25" height="3" fill="#363e70"/><rect x="3492.62" y="481" width="38.25" height="3" fill="#302850"/><rect x="3530.88" y="481" width="19.12" height="3" fill="#363e70"/><rect x="1064" y="478" width="18.88" height="3" fill="#32305b"/><rect x="1082.88" y="478" width="726.75" height="3" fill="#2b5c71"/><rect x="1809.62" y="478" width="38.25" height="3" fill="#324870"/><rect x="1847.88" y="478" width="153" height="3" fill="#2b5c71"/><rect x="2000.88" y="478" width="153" height="3" fill="#324870"/><rect x="2153.88" y="478" width="76.5" height="3" fill="#2b5c71"/><rect x="2230.38" y="478" width="38.25" height="3" fill="#324870"/><rect x="2268.62" y="478" width="38.25" height="3" fill="#2e2348"/><rect x="2306.88" y="478" width="420.75" height="3" fill="#2b5c71"/><rect x="2727.62" y="478" width="38.25" height="3" fill="#324870"/><rect x="2765.88" y="478" width="38.25" height="3" fill="#2b5c71"/><rect x="2804.12" y="478" width="306" height="3" fill="#324870"/><rect x="3110.12" y="478" width="76.5" height="3" fill="#2b5c71"/><rect x="3186.62" y="478" width="38.25" height="3" fill="#2e2348"/><rect x="3224.88" y="478" width="76.5" height="3" fill="#2b5c71"/><rect x="3301.38" y="478" width="76.5" height="3" fill="#2e2348"/><rect x="3377.88" y="478" width="38.25" height="3" fill="#2b5c71"/><rect x="1064" y="475" width="57.12" height="3" fill="#2e5370"/><rect x="1121.12" y="475" width="38.25" height="3" fill="#363e70"/><rect x="1159.38" y="475" width="191.25" height="3" fill="#2e5370"/><rect x="1350.62" y="475" width="76.5" height="3" fill="#363e70"/><rect x="1427.12" y="475" width="229.5" height="3" fill="#2e5370"/><rect x="1656.62" y="475" width="38.25" height="3" fill="#363e70"/><rect x="1694.88" y="475" width="229.5" height="3" fill="#2e5370"/><rect x="1924.38" y="475" width="38.25" height="3" fill="#363e70"/><rect x="1962.62" y="475" width="382.5" height="3" fill="#2e5370"/><rect x="2345.12" y="475" width="38.25" height="3" fill="#2e2348"/><rect x="2383.38" y="475" width="38.25" height="3" fill="#363e70"/><rect x="2421.62" y="475" width="229.5" height="3" fill="#2e5370"/><rect x="2651.12" y="475" width="76.5" height="3" fill="#363e70"/><rect x="2727.62" y="475" width="76.5" height="3" fill="#2e5370"/><rect x="2804.12" y="475" width="38.25" height="3" fill="#363e70"/><rect x="2842.38" y="475" width="114.75" height="3" fill="#2e5370"/><rect x="2957.12" y="475" width="153" height="3" fill="#2e2348"/><rect x="3110.12" y="475" width="38.25" height="3" fill="#2e5370"/><rect x="3148.38" y="475" width="153" height="3" fill="#2e2348"/><rect x="3301.38" y="475" width="114.75" height="3" fill="#363e70"/><rect x="1064" y="472" width="401.38" height="3" fill="#363e70"/><rect x="1465.38" y="472" width="38.25" height="3" fill="#2e2348"/><rect x="1503.62" y="472" width="153" height="3" fill="#363e70"/><rect x="1656.62" y="472" width="38.25" height="3" fill="#2e2348"/><rect x="1694.88" y="472" width="382.5" height="3" fill="#363e70"/><rect x="2077.38" y="472" width="38.25" height="3" fill="#2e2348"/><rect x="2115.62" y="472" width="114.75" height="3" fill="#363e70"/><rect x="2268.62" y="472" width="153" height="3" fill="#363e70"/><rect x="2498.12" y="472" width="38.25" height="3" fill="#363e70"/><rect x="2574.62" y="472" width="38.25" height="3" fill="#2e2348"/><rect x="2612.88" y="472" width="497.25" height="3" fill="#363e70"/><rect x="3110.12" y="472" width="306" height="3" fill="#2e2348"/><rect x="1064" y="469" width="133.62" height="3" fill="#363e70"/><rect x="1197.62" y="469" width="76.5" height="3" fill="#2e2348"/><rect x="1274.12" y="469" width="420.75" height="3" fill="#363e70"/><rect x="1694.88" y="469" width="382.5" height="3" fill="#2e2348"/><rect x="2077.38" y="469" width="153" height="3" fill="#363e70"/><rect x="2230.38" y="469" width="114.75" height="3" fill="#2e2348"/><rect x="2345.12" y="469" width="38.25" height="3" fill="#363e70"/><rect x="2383.38" y="469" width="382.5" height="3" fill="#2e2348"/><rect x="2765.88" y="469" width="153" height="3" fill="#363e70"/><rect x="2918.88" y="469" width="114.75" height="3" fill="#2e2348"/><rect x="3033.62" y="469" width="344.25" height="3" fill="#363e70"/><rect x="3377.88" y="469" width="38.25" height="3" fill="#2e2348"/><rect x="1064" y="466" width="57.12" height="3" fill="#2e2348"/><rect x="1121.12" y="466" width="76.5" height="3" fill="#363e70"/><rect x="1274.12" y="466" width="38.25" height="3" fill="#2e2348"/><rect x="1350.62" y="466" width="229.5" height="3" fill="#2e2348"/><rect x="1771.38" y="466" width="191.25" height="3" fill="#2e2348"/><rect x="2230.38" y="466" width="344.25" height="3" fill="#2e2348"/><rect x="2574.62" y="466" width="114.75" height="3" fill="#363e70"/><rect x="2689.38" y="466" width="191.25" height="3" fill="#2e2348"/><rect x="2918.88" y="466" width="38.25" height="3" fill="#363e70"/><rect x="2957.12" y="466" width="229.5" height="3" fill="#2e2348"/><rect x="3339.62" y="466" width="76.5" height="3" fill="#2e2348"/><rect x="1121.12" y="463" width="38.25" height="3" fill="#2e2348"/><rect x="1274.12" y="463" width="114.75" height="3" fill="#2e2348"/><rect x="1618.38" y="463" width="38.25" height="3" fill="#2e2348"/><rect x="1809.62" y="463" width="76.5" height="3" fill="#2e2348"/><rect x="2039.12" y="463" width="612" height="3" fill="#2e2348"/><rect x="2689.38" y="463" width="76.5" height="3" fill="#2e2348"/><rect x="2918.88" y="463" width="191.25" height="3" fill="#2e2348"/><rect x="3148.38" y="463" width="153" height="3" fill="#2e2348"/><rect x="1064" y="460" width="324.88" height="3" fill="#2e2348"/><rect x="1618.38" y="460" width="38.25" height="3" fill="#2e2348"/><rect x="2268.62" y="460" width="229.5" height="3" fill="#2e2348"/><rect x="2612.88" y="460" width="38.25" height="3" fill="#2e2348"/><rect x="2880.62" y="460" width="76.5" height="3" fill="#2e2348"/><rect x="1465.38" y="457" width="38.25" height="3" fill="#2e2348"/><rect x="1924.38" y="457" width="306" height="3" fill="#2e2348"/><rect x="2268.62" y="457" width="612" height="3" fill="#2e2348"/><rect x="3301.38" y="457" width="76.5" height="3" fill="#2e2348"/><rect x="1064" y="454" width="95.38" height="3" fill="#2e2348"/><rect x="1235.88" y="454" width="38.25" height="3" fill="#2e2348"/><rect x="1618.38" y="454" width="650.25" height="3" fill="#2e2348"/><rect x="2306.88" y="454" width="38.25" height="3" fill="#2e2348"/><rect x="2498.12" y="454" width="114.75" height="3" fill="#2e2348"/><rect x="2727.62" y="454" width="191.25" height="3" fill="#2e2348"/><rect x="3071.88" y="454" width="38.25" height="3" fill="#2e2348"/><rect x="3339.62" y="454" width="76.5" height="3" fill="#2e2348"/><rect x="1350.62" y="451" width="114.75" height="3" fill="#2e2348"/><rect x="2077.38" y="451" width="76.5" height="3" fill="#343765"/><rect x="2612.88" y="451" width="38.25" height="3" fill="#2e2348"/><rect x="2727.62" y="451" width="38.25" height="3" fill="#2e2348"/><rect x="3186.62" y="451" width="76.5" height="3" fill="#2e2348"/><rect x="1350.62" y="448" width="114.75" height="3" fill="#2e2348"/><rect x="2039.12" y="448" width="38.25" height="3" fill="#2e2348"/><rect x="2459.88" y="448" width="38.25" height="3" fill="#2e2348"/><rect x="2612.88" y="448" width="38.25" height="3" fill="#2e2348"/><rect x="2918.88" y="448" width="114.75" height="3" fill="#2e2348"/><rect x="3148.38" y="448" width="38.25" height="3" fill="#2e2348"/><rect x="3339.62" y="448" width="76.5" height="3" fill="#2e2348"/><rect x="1388.88" y="445" width="38.25" height="3" fill="#2e2348"/><rect x="1618.38" y="445" width="76.5" height="3" fill="#2e2348"/><rect x="1809.62" y="445" width="38.25" height="3" fill="#2e2348"/><rect x="2000.88" y="445" width="38.25" height="3" fill="#2e2348"/><rect x="2115.62" y="445" width="38.25" height="3" fill="#2e2348"/><rect x="2459.88" y="445" width="38.25" height="3" fill="#2e2348"/><rect x="2918.88" y="445" width="38.25" height="3" fill="#2e2348"/><rect x="1809.62" y="442" width="38.25" height="3" fill="#2e2348"/><rect x="2000.88" y="442" width="76.5" height="3" fill="#2e2348"/><rect x="2383.38" y="442" width="38.25" height="3" fill="#2e2348"/><rect x="2727.62" y="442" width="76.5" height="3" fill="#2e2348"/><rect x="2918.88" y="442" width="76.5" height="3" fill="#2e2348"/><rect x="3263.12" y="442" width="38.25" height="3" fill="#343765"/><rect x="1312.38" y="439" width="114.75" height="3" fill="#2e2348"/><rect x="1503.62" y="439" width="114.75" height="3" fill="#2e2348"/><rect x="1618.38" y="439" width="76.5" height="3" fill="#343765"/><rect x="1809.62" y="439" width="38.25" height="3" fill="#343765"/><rect x="1847.88" y="439" width="38.25" height="3" fill="#2e2348"/><rect x="2115.62" y="439" width="38.25" height="3" fill="#343765"/><rect x="2192.12" y="439" width="38.25" height="3" fill="#2e2348"/><rect x="2268.62" y="439" width="38.25" height="3" fill="#2e2348"/><rect x="2459.88" y="439" width="76.5" height="3" fill="#2e2348"/><rect x="2536.38" y="439" width="76.5" height="3" fill="#343765"/><rect x="2612.88" y="439" width="38.25" height="3" fill="#2e2348"/><rect x="2765.88" y="439" width="38.25" height="3" fill="#2e2348"/><rect x="2918.88" y="439" width="76.5" height="3" fill="#2e2348"/><rect x="3033.62" y="439" width="38.25" height="3" fill="#343765"/><rect x="3263.12" y="439" width="114.75" height="3" fill="#343765"/><rect x="1064" y="436" width="18.88" height="3" fill="#343765"/><rect x="1159.38" y="436" width="38.25" height="3" fill="#2e2348"/><rect x="1197.62" y="436" width="38.25" height="3" fill="#343765"/><rect x="1274.12" y="436" width="76.5" height="3" fill="#2e2348"/><rect x="1427.12" y="436" width="153" height="3" fill="#343765"/><rect x="1771.38" y="436" width="38.25" height="3" fill="#2e2348"/><rect x="1809.62" y="436" width="38.25" height="3" fill="#343765"/><rect x="1847.88" y="436" width="76.5" height="3" fill="#2e2348"/><rect x="2000.88" y="436" width="76.5" height="3" fill="#343765"/><rect x="2115.62" y="436" width="38.25" height="3" fill="#343765"/><rect x="2153.88" y="436" width="38.25" height="3" fill="#2e2348"/><rect x="2230.38" y="436" width="38.25" height="3" fill="#343765"/><rect x="2345.12" y="436" width="38.25" height="3" fill="#2e2348"/><rect x="2459.88" y="436" width="38.25" height="3" fill="#2e2348"/><rect x="2536.38" y="436" width="38.25" height="3" fill="#343765"/><rect x="2574.62" y="436" width="38.25" height="3" fill="#2e2348"/><rect x="2651.12" y="436" width="38.25" height="3" fill="#2e2348"/><rect x="2804.12" y="436" width="38.25" height="3" fill="#343765"/><rect x="2842.38" y="436" width="114.75" height="3" fill="#2e2348"/><rect x="3071.88" y="436" width="38.25" height="3" fill="#2e2348"/><rect x="3110.12" y="436" width="76.5" height="3" fill="#343765"/><rect x="3224.88" y="436" width="114.75" height="3" fill="#2e2348"/><rect x="3339.62" y="436" width="76.5" height="3" fill="#343765"/><rect x="1064" y="433" width="18.88" height="3" fill="#343765"/><rect x="1159.38" y="433" width="38.25" height="3" fill="#343765"/><rect x="1197.62" y="433" width="76.5" height="3" fill="#2e2348"/><rect x="1274.12" y="433" width="38.25" height="3" fill="#343765"/><rect x="1312.38" y="433" width="38.25" height="3" fill="#2e2348"/><rect x="1388.88" y="433" width="114.75" height="3" fill="#2e2348"/><rect x="1503.62" y="433" width="38.25" height="3" fill="#343765"/><rect x="1580.12" y="433" width="76.5" height="3" fill="#2e2348"/><rect x="1656.62" y="433" width="76.5" height="3" fill="#343765"/><rect x="1771.38" y="433" width="76.5" height="3" fill="#2e2348"/><rect x="1886.12" y="433" width="38.25" height="3" fill="#2e2348"/><rect x="2115.62" y="433" width="38.25" height="3" fill="#343765"/><rect x="2345.12" y="433" width="267.75" height="3" fill="#343765"/><rect x="2651.12" y="433" width="38.25" height="3" fill="#2e2348"/><rect x="2918.88" y="433" width="76.5" height="3" fill="#343765"/><rect x="3033.62" y="433" width="76.5" height="3" fill="#2e2348"/><rect x="3263.12" y="433" width="76.5" height="3" fill="#2e2348"/><rect x="1159.38" y="430" width="38.25" height="3" fill="#343765"/><rect x="1197.62" y="430" width="38.25" height="3" fill="#2e2348"/><rect x="1312.38" y="430" width="114.75" height="3" fill="#2e2348"/><rect x="1541.88" y="430" width="76.5" height="3" fill="#2e2348"/><rect x="1618.38" y="430" width="114.75" height="3" fill="#343765"/><rect x="1771.38" y="430" width="38.25" height="3" fill="#343765"/><rect x="1809.62" y="430" width="114.75" height="3" fill="#2e2348"/><rect x="1962.62" y="430" width="76.5" height="3" fill="#2e2348"/><rect x="2077.38" y="430" width="38.25" height="3" fill="#2e2348"/><rect x="2192.12" y="430" width="76.5" height="3" fill="#2e2348"/><rect x="2306.88" y="430" width="76.5" height="3" fill="#343765"/><rect x="2383.38" y="430" width="38.25" height="3" fill="#2e2348"/><rect x="2421.62" y="430" width="38.25" height="3" fill="#343765"/><rect x="2498.12" y="430" width="38.25" height="3" fill="#2e2348"/><rect x="2536.38" y="430" width="38.25" height="3" fill="#343765"/><rect x="2689.38" y="430" width="114.75" height="3" fill="#2e2348"/><rect x="2880.62" y="430" width="38.25" height="3" fill="#343765"/><rect x="2995.38" y="430" width="38.25" height="3" fill="#343765"/><rect x="3148.38" y="430" width="76.5" height="3" fill="#2e2348"/><rect x="3377.88" y="430" width="38.25" height="3" fill="#2e2348"/><rect x="1159.38" y="427" width="38.25" height="3" fill="#343765"/><rect x="1197.62" y="427" width="76.5" height="3" fill="#2e2348"/><rect x="1274.12" y="427" width="38.25" height="3" fill="#343765"/><rect x="1312.38" y="427" width="38.25" height="3" fill="#2e2348"/><rect x="1541.88" y="427" width="114.75" height="3" fill="#2e2348"/><rect x="1656.62" y="427" width="38.25" height="3" fill="#343765"/><rect x="1771.38" y="427" width="38.25" height="3" fill="#343765"/><rect x="1924.38" y="427" width="38.25" height="3" fill="#2e2348"/><rect x="2000.88" y="427" width="38.25" height="3" fill="#2e2348"/><rect x="2077.38" y="427" width="153" height="3" fill="#343765"/><rect x="2345.12" y="427" width="114.75" height="3" fill="#2e2348"/><rect x="2498.12" y="427" width="76.5" height="3" fill="#343765"/><rect x="2574.62" y="427" width="38.25" height="3" fill="#2e2348"/><rect x="2612.88" y="427" width="38.25" height="3" fill="#343765"/><rect x="2727.62" y="427" width="76.5" height="3" fill="#2e2348"/><rect x="2804.12" y="427" width="114.75" height="3" fill="#343765"/><rect x="2918.88" y="427" width="38.25" height="3" fill="#2e2348"/><rect x="2957.12" y="427" width="76.5" height="3" fill="#343765"/><rect x="3033.62" y="427" width="76.5" height="3" fill="#2e2348"/><rect x="3224.88" y="427" width="38.25" height="3" fill="#2e2348"/><rect x="3263.12" y="427" width="38.25" height="3" fill="#343765"/><rect x="1197.62" y="424" width="38.25" height="3" fill="#2e2348"/><rect x="1694.88" y="424" width="76.5" height="3" fill="#2e2348"/><rect x="1924.38" y="424" width="38.25" height="3" fill="#2e2348"/><rect x="2000.88" y="424" width="38.25" height="3" fill="#2e2348"/><rect x="2115.62" y="424" width="38.25" height="3" fill="#2e2348"/><rect x="2345.12" y="424" width="38.25" height="3" fill="#2e2348"/><rect x="2574.62" y="424" width="38.25" height="3" fill="#2e2348"/><rect x="2689.38" y="424" width="76.5" height="3" fill="#2e2348"/><rect x="2804.12" y="424" width="38.25" height="3" fill="#343765"/><rect x="2995.38" y="424" width="76.5" height="3" fill="#2e2348"/><rect x="3148.38" y="424" width="76.5" height="3" fill="#2e2348"/><rect x="1388.88" y="421" width="38.25" height="3" fill="#2e2348"/><rect x="1541.88" y="421" width="76.5" height="3" fill="#2e2348"/><rect x="1656.62" y="421" width="38.25" height="3" fill="#2e2348"/><rect x="2115.62" y="421" width="38.25" height="3" fill="#2e2348"/><rect x="2268.62" y="421" width="38.25" height="3" fill="#2e2348"/><rect x="3148.38" y="421" width="38.25" height="3" fill="#2e2348"/><rect x="1541.88" y="418" width="38.25" height="3" fill="#2e2348"/><rect x="1962.62" y="418" width="38.25" height="3" fill="#2e2348"/><rect x="2268.62" y="418" width="38.25" height="3" fill="#2e2348"/><rect x="2727.62" y="418" width="76.5" height="3" fill="#2e2348"/><rect x="2918.88" y="418" width="76.5" height="3" fill="#2e2348"/><rect x="1082.88" y="415" width="76.5" height="3" fill="#2e2348"/><rect x="2230.38" y="415" width="38.25" height="3" fill="#2e2348"/><rect x="2574.62" y="415" width="76.5" height="3" fill="#2e2348"/><rect x="2842.38" y="415" width="76.5" height="3" fill="#2e2348"/><rect x="3186.62" y="415" width="76.5" height="3" fill="#2e2348"/><rect x="2498.12" y="412" width="38.25" height="3" fill="#2e2348"/><rect x="2842.38" y="412" width="38.25" height="3" fill="#2e2348"/><rect x="3263.12" y="412" width="38.25" height="3" fill="#2e2348"/><rect x="2115.62" y="409" width="38.25" height="3" fill="#2e2348"/><rect x="3186.62" y="409" width="38.25" height="3" fill="#343765"/><rect x="3263.12" y="409" width="38.25" height="3" fill="#2e2348"/><rect x="1618.38" y="406" width="76.5" height="3" fill="#2e2348"/><rect x="2115.62" y="406" width="38.25" height="3" fill="#2e2348"/><rect x="2192.12" y="406" width="38.25" height="3" fill="#2e2348"/><rect x="1197.62" y="403" width="38.25" height="3" fill="#2e2348"/><rect x="1388.88" y="403" width="38.25" height="3" fill="#2e2348"/><rect x="1541.88" y="403" width="38.25" height="3" fill="#2e2348"/><rect x="1656.62" y="403" width="38.25" height="3" fill="#2e2348"/><rect x="1809.62" y="403" width="38.25" height="3" fill="#2e2348"/><rect x="2192.12" y="403" width="38.25" height="3" fill="#2e2348"/><rect x="3339.62" y="403" width="38.25" height="3" fill="#343765"/><rect x="1962.62" y="400" width="38.25" height="3" fill="#2e2348"/><rect x="2039.12" y="400" width="76.5" height="3" fill="#2e2348"/><rect x="2459.88" y="400" width="38.25" height="3" fill="#2e2348"/><rect x="2612.88" y="400" width="76.5" height="3" fill="#2e2348"/><rect x="3224.88" y="400" width="76.5" height="3" fill="#2e2348"/><rect x="1924.38" y="397" width="76.5" height="3" fill="#2e2348"/><rect x="2077.38" y="397" width="38.25" height="3" fill="#2e2348"/><rect x="2306.88" y="397" width="38.25" height="3" fill="#2e2348"/><rect x="2612.88" y="397" width="38.25" height="3" fill="#2e2348"/><rect x="1274.12" y="394" width="38.25" height="3" fill="#2e2348"/><rect x="2689.38" y="394" width="38.25" height="3" fill="#2e2348"/><rect x="1809.62" y="391" width="76.5" height="3" fill="#2e2348"/><rect x="2268.62" y="391" width="38.25" height="3" fill="#2e2348"/><rect x="2345.12" y="391" width="76.5" height="3" fill="#2e2348"/><rect x="3071.88" y="391" width="38.25" height="3" fill="#2e2348"/><rect x="1235.88" y="388" width="76.5" height="3" fill="#2e2348"/><rect x="2000.88" y="388" width="38.25" height="3" fill="#2e2348"/><rect x="2192.12" y="388" width="38.25" height="3" fill="#2e2348"/><rect x="1197.62" y="385" width="76.5" height="3" fill="#2e2348"/><rect x="1847.88" y="385" width="38.25" height="3" fill="#2e2348"/><rect x="2689.38" y="385" width="38.25" height="3" fill="#2e2348"/><rect x="2765.88" y="385" width="38.25" height="3" fill="#343765"/><rect x="3110.12" y="385" width="38.25" height="3" fill="#2e2348"/><rect x="1847.88" y="382" width="38.25" height="3" fill="#2e2348"/><rect x="2000.88" y="382" width="38.25" height="3" fill="#2e2348"/><rect x="2918.88" y="382" width="38.25" height="3" fill="#2e2348"/><rect x="3110.12" y="382" width="38.25" height="3" fill="#2e2348"/><rect x="1159.38" y="379" width="38.25" height="3" fill="#2e2348"/><rect x="1541.88" y="379" width="76.5" height="3" fill="#2e2348"/><rect x="1886.12" y="379" width="38.25" height="3" fill="#2e2348"/><rect x="2689.38" y="379" width="38.25" height="3" fill="#2e2348"/><rect x="3339.62" y="379" width="76.5" height="3" fill="#2e2348"/><rect x="1886.12" y="376" width="38.25" height="3" fill="#2e2348"/><rect x="2995.38" y="376" width="114.75" height="3" fill="#2e2348"/><rect x="1064" y="373" width="57.12" height="3" fill="#2e2348"/><rect x="2995.38" y="373" width="38.25" height="3" fill="#2e2348"/><rect x="1159.38" y="370" width="38.25" height="3" fill="#2e2348"/><rect x="1159.38" y="367" width="38.25" height="3" fill="#2e2348"/><rect x="1962.62" y="367" width="38.25" height="3" fill="#2e2348"/><rect x="2306.88" y="367" width="38.25" height="3" fill="#2e2348"/><rect x="1312.38" y="364" width="38.25" height="3" fill="#343765"/><rect x="1388.88" y="364" width="38.25" height="3" fill="#2e2348"/><rect x="1541.88" y="364" width="38.25" height="3" fill="#2e2348"/><rect x="2306.88" y="364" width="38.25" height="3" fill="#2e2348"/><rect x="1159.38" y="361" width="38.25" height="3" fill="#2e2348"/><rect x="2345.12" y="361" width="76.5" height="3" fill="#2e2348"/><rect x="2651.12" y="361" width="38.25" height="3" fill="#2e2348"/><rect x="1503.62" y="358" width="38.25" height="3" fill="#2e2348"/><rect x="2345.12" y="358" width="38.25" height="3" fill="#2e2348"/><rect x="2651.12" y="358" width="38.25" height="3" fill="#2e2348"/><rect x="2918.88" y="358" width="38.25" height="3" fill="#2e2348"/><rect x="3301.38" y="358" width="38.25" height="3" fill="#2e2348"/><rect x="2918.88" y="355" width="38.25" height="3" fill="#2e2348"/><rect x="3377.88" y="355" width="38.25" height="3" fill="#2e2348"/><rect x="1427.12" y="352" width="38.25" height="3" fill="#2e2348"/><rect x="2918.88" y="352" width="114.75" height="3" fill="#2e2348"/><rect x="3377.88" y="352" width="38.25" height="3" fill="#2e2348"/><rect x="1312.38" y="349" width="38.25" height="3" fill="#2e2348"/><rect x="3377.88" y="349" width="38.25" height="3" fill="#2e2348"/><rect x="2383.38" y="346" width="76.5" height="3" fill="#2e2348"/><rect x="1235.88" y="343" width="38.25" height="3" fill="#2e2348"/><rect x="1886.12" y="343" width="76.5" height="3" fill="#2e2348"/><rect x="3110.12" y="343" width="38.25" height="3" fill="#2e2348"/><rect x="2000.88" y="337" width="76.5" height="3" fill="#2e2348"/><rect x="1580.12" y="334" width="38.25" height="3" fill="#2e2348"/><rect x="2268.62" y="334" width="38.25" height="3" fill="#343765"/><rect x="1733.12" y="328" width="38.25" height="3" fill="#2e2348"/><rect x="2421.62" y="328" width="38.25" height="3" fill="#2e2348"/><rect x="1121.12" y="325" width="76.5" height="3" fill="#2e2348"/><rect x="2957.12" y="322" width="76.5" height="3" fill="#2e2348"/><rect x="3377.88" y="322" width="38.25" height="3" fill="#2e2348"/><rect x="1541.88" y="319" width="38.25" height="3" fill="#2e2348"/><rect x="2880.62" y="319" width="38.25" height="3" fill="#2e2348"/><rect x="1694.88" y="316" width="38.25" height="3" fill="#2e2348"/><rect x="2880.62" y="316" width="38.25" height="3" fill="#2e2348"/><rect x="2957.12" y="313" width="76.5" height="3" fill="#343765"/><rect x="1886.12" y="310" width="38.25" height="3" fill="#2e2348"/><rect x="2268.62" y="310" width="38.25" height="3" fill="#2e2348"/><rect x="1618.38" y="307" width="76.5" height="3" fill="#2e2348"/><rect x="2115.62" y="307" width="38.25" height="3" fill="#343765"/><rect x="2268.62" y="307" width="38.25" height="3" fill="#2e2348"/><rect x="1618.38" y="304" width="76.5" height="3" fill="#2e2348"/><rect x="1064" y="298" width="18.88" height="3" fill="#2e2348"/><rect x="2230.38" y="298" width="76.5" height="3" fill="#2e2348"/><rect x="2153.88" y="295" width="114.75" height="3" fill="#2e2348"/><rect x="2306.88" y="295" width="38.25" height="3" fill="#2e2348"/><rect x="2153.88" y="292" width="38.25" height="3" fill="#2e2348"/><rect x="2306.88" y="292" width="38.25" height="3" fill="#2e2348"/><rect x="2574.62" y="292" width="38.25" height="3" fill="#2e2348"/><rect x="2000.88" y="289" width="38.25" height="3" fill="#2e2348"/><rect x="1465.38" y="286" width="38.25" height="3" fill="#2e2348"/><rect x="2345.12" y="286" width="76.5" height="3" fill="#2e2348"/><rect x="2498.12" y="286" width="38.25" height="3" fill="#2e2348"/><rect x="1082.88" y="277" width="38.25" height="3" fill="#343765"/><rect x="2727.62" y="271" width="38.25" height="3" fill="#2e2348"/><rect x="2612.88" y="268" width="38.25" height="3" fill="#2e2348"/><rect x="3224.88" y="268" width="76.5" height="3" fill="#2e2348"/><rect x="2612.88" y="265" width="38.25" height="3" fill="#2e2348"/><rect x="1733.12" y="262" width="38.25" height="3" fill="#2e2348"/><rect x="2765.88" y="262" width="38.25" height="3" fill="#2e2348"/><rect x="3339.62" y="256" width="76.5" height="3" fill="#2e2348"/><rect x="2383.38" y="253" width="38.25" height="3" fill="#343765"/><rect x="1350.62" y="247" width="38.25" height="3" fill="#2e2348"/><rect x="2727.62" y="247" width="38.25" height="3" fill="#2e2348"/><rect x="1350.62" y="244" width="38.25" height="3" fill="#2e2348"/><rect x="1159" y="472" width="1" height="51" fill="#161c20"/><rect x="1312" y="472" width="1" height="51" fill="#161c20"/><rect x="1465" y="472" width="1" height="51" fill="#161c20"/><rect x="1618" y="472" width="1" height="51" fill="#161c20"/><rect x="1771" y="472" width="1" height="51" fill="#161c20"/><rect x="1924.2" y="472" width="1" height="51" fill="#161c20"/><rect x="2077.3" y="472" width="1" height="51" fill="#161c20"/><rect x="2230" y="472" width="1" height="51" fill="#161c20"/><rect x="2421.5" y="472" width="1" height="51" fill="#161c20"/><rect x="2574.1" y="472" width="1" height="51" fill="#161c20"/><rect x="2726.8" y="472" width="1" height="51" fill="#161c20"/><rect x="2879.8" y="472" width="1" height="51" fill="#161c20"/><rect x="3033.2" y="472" width="1" height="51" fill="#161c20"/><rect x="3185.9" y="472" width="1" height="51" fill="#161c20"/><rect x="3338.9" y="472" width="1" height="51" fill="#161c20"/><rect x="3492" y="472" width="1" height="51" fill="#161c20"/><rect x="1064" y="475" width="2352" height="1" fill="#17242a"/><rect x="1064" y="491" width="2352" height="1" fill="#17242a"/><rect x="1064" y="507" width="2352" height="1" fill="#17242a"/></g><rect x="1157" y="250" width="2264" height="202" fill="rgba(80,250,123,0.055)" stroke="#5cf28c" stroke-width="2"/><path d="M1102 239V525" stroke="#bec8e6" stroke-opacity="0.125" stroke-width="2" stroke-dasharray="3 3" fill="none"/><path d="M1216.75 239V525" stroke="#bec8e6" stroke-opacity="0.125" stroke-width="2" stroke-dasharray="3 3" fill="none"/><path d="M1331.5 239V525" stroke="#bec8e6" stroke-opacity="0.125" stroke-width="2" stroke-dasharray="3 3" fill="none"/><path d="M1446.25 239V525" stroke="#bec8e6" stroke-opacity="0.125" stroke-width="2" stroke-dasharray="3 3" fill="none"/><path d="M1561 239V525" stroke="#bec8e6" stroke-opacity="0.125" stroke-width="2" stroke-dasharray="3 3" fill="none"/><path d="M1675.75 239V525" stroke="#bec8e6" stroke-opacity="0.125" stroke-width="2" stroke-dasharray="3 3" fill="none"/><path d="M1790.5 239V525" stroke="#bec8e6" stroke-opacity="0.125" stroke-width="2" stroke-dasharray="3 3" fill="none"/><path d="M1905.25 239V525" stroke="#bec8e6" stroke-opacity="0.125" stroke-width="2" stroke-dasharray="3 3" fill="none"/><path d="M2020 239V525" stroke="#bec8e6" stroke-opacity="0.125" stroke-width="2" stroke-dasharray="3 3" fill="none"/><path d="M2134.75 239V525" stroke="#bec8e6" stroke-opacity="0.125" stroke-width="2" stroke-dasharray="3 3" fill="none"/><path d="M2249.5 239V525" stroke="#bec8e6" stroke-opacity="0.125" stroke-width="2" stroke-dasharray="3 3" fill="none"/><path d="M2364.25 239V525" stroke="#bec8e6" stroke-opacity="0.125" stroke-width="2" stroke-dasharray="3 3" fill="none"/><path d="M2479 239V525" stroke="#bec8e6" stroke-opacity="0.125" stroke-width="2" stroke-dasharray="3 3" fill="none"/><path d="M2593.75 239V525" stroke="#bec8e6" stroke-opacity="0.125" stroke-width="2" stroke-dasharray="3 3" fill="none"/><path d="M2708.5 239V525" stroke="#bec8e6" stroke-opacity="0.125" stroke-width="2" stroke-dasharray="3 3" fill="none"/><path d="M2823.25 239V525" stroke="#bec8e6" stroke-opacity="0.125" stroke-width="2" stroke-dasharray="3 3" fill="none"/><path d="M2938 239V525" stroke="#bec8e6" stroke-opacity="0.125" stroke-width="2" stroke-dasharray="3 3" fill="none"/><path d="M3052.75 239V525" stroke="#bec8e6" stroke-opacity="0.125" stroke-width="2" stroke-dasharray="3 3" fill="none"/><path d="M3167.5 239V525" stroke="#bec8e6" stroke-opacity="0.125" stroke-width="2" stroke-dasharray="3 3" fill="none"/><path d="M3282.25 239V525" stroke="#bec8e6" stroke-opacity="0.125" stroke-width="2" stroke-dasharray="3 3" fill="none"/><path d="M3397 239V525" stroke="#bec8e6" stroke-opacity="0.125" stroke-width="2" stroke-dasharray="3 3" fill="none"/><path d="M3511.75 239V525" stroke="#bec8e6" stroke-opacity="0.125" stroke-width="2" stroke-dasharray="3 3" fill="none"/><path d="M1064 248H3550" stroke="#bec8e6" stroke-opacity="0.125" stroke-width="2" stroke-dasharray="3 3" fill="none"/><path d="M1064 340H3550" stroke="#bec8e6" stroke-opacity="0.125" stroke-width="2" stroke-dasharray="3 3" fill="none"/><path d="M1064 432.5H3550" stroke="#bec8e6" stroke-opacity="0.125" stroke-width="2" stroke-dasharray="3 3" fill="none"/><path d="M1064 525H3550" stroke="#5d5d5d" stroke-width="2" stroke-dasharray="3 3" fill="none"/><path d="M1064 239V526" stroke="#666666" stroke-width="2" fill="none"/><text x="1034.5" y="253.9" text-anchor="end">600</text><text x="1034.5" y="346.4" text-anchor="end">400</text><text x="1034.5" y="438.9" text-anchor="end">200</text><text x="1034.5" y="530.6" text-anchor="end">0</text><text x="1102" y="572.75" text-anchor="middle">3:45pm</text><text x="1216.75" y="572.75" text-anchor="middle">4:00pm</text><text x="1331.5" y="572.75" text-anchor="middle">4:15pm</text><text x="1446.25" y="572.75" text-anchor="middle">4:30pm</text><text x="1561" y="572.75" text-anchor="middle">4:45pm</text><text x="1675.75" y="572.75" text-anchor="middle">5:00pm</text><text x="1790.5" y="572.75" text-anchor="middle">5:15pm</text><text x="1905.25" y="572.75" text-anchor="middle">5:30pm</text><text x="2020" y="572.75" text-anchor="middle">5:45pm</text><text x="2134.75" y="572.75" text-anchor="middle">6:00pm</text><text x="2249.5" y="572.75" text-anchor="middle">6:15pm</text><text x="2364.25" y="572.75" text-anchor="middle">6:30pm</text><text x="2479" y="572.75" text-anchor="middle">6:45pm</text><text x="2593.75" y="572.75" text-anchor="middle">7:00pm</text><text x="2708.5" y="572.75" text-anchor="middle">7:15pm</text><text x="2823.25" y="572.75" text-anchor="middle">7:30pm</text><text x="2938" y="572.75" text-anchor="middle">7:45pm</text><text x="3052.75" y="572.75" text-anchor="middle">8:00pm</text><text x="3167.5" y="572.75" text-anchor="middle">8:15pm</text><text x="3282.25" y="572.75" text-anchor="middle">8:30pm</text><text x="3397" y="572.75" text-anchor="middle">8:45pm</text><text x="3511.75" y="572.75" text-anchor="middle">9:00pm</text><text x="1102" y="609.5" text-anchor="middle">5/26/25</text></svg>
<div class="abs" style="left:3164px;top:625px;width:44px;height:44px;box-sizing:border-box;border-radius:7px;background:#1f2126;border:2px solid #2b2d32;"></div>
<svg class="i" style="left:3178px;top:637px" width="16" height="20" viewBox="0 0 16 20" fill="none" stroke="#5d6067" stroke-width="2.2"><path d="M11.6 4.2 L5.2 10 L11.6 15.8"/></svg>
<div class="abs" style="left:3224px;top:625px;width:44px;height:44px;box-sizing:border-box;border-radius:7px;background:#00c28b;"></div>
<span class="t" style="left:3246px;top:635.52px;font:400 27px/27px 'Liberation Mono',monospace;color:#ededed;transform:translateX(-50%);">1</span>
<div class="abs" style="left:3284px;top:625px;width:44px;height:44px;box-sizing:border-box;border-radius:7px;background:#25262b;border:2px solid #36383e;"></div>
<span class="t" style="left:3306px;top:635.52px;font:400 27px/27px 'Liberation Mono',monospace;color:#c0c1c6;transform:translateX(-50%);">2</span>
<div class="abs" style="left:3344px;top:625px;width:44px;height:44px;box-sizing:border-box;border-radius:7px;background:#25262b;border:2px solid #36383e;"></div>
<span class="t" style="left:3366px;top:635.52px;font:400 27px/27px 'Liberation Mono',monospace;color:#c0c1c6;transform:translateX(-50%);">3</span>
<div class="abs" style="left:3404px;top:625px;width:44px;height:44px;box-sizing:border-box;border-radius:7px;background:#25262b;border:2px solid #36383e;"></div>
<span class="t" style="left:3426px;top:635.52px;font:400 27px/27px 'Liberation Mono',monospace;color:#c0c1c6;transform:translateX(-50%);">4</span>
<div class="abs" style="left:3464px;top:625px;width:44px;height:44px;box-sizing:border-box;border-radius:7px;background:#25262b;border:2px solid #36383e;"></div>
<span class="t" style="left:3486px;top:635.52px;font:400 27px/27px 'Liberation Mono',monospace;color:#c0c1c6;transform:translateX(-50%);">5</span>
<div class="abs" style="left:3524px;top:625px;width:44px;height:44px;box-sizing:border-box;border-radius:7px;background:#25262b;border:2px solid #36383e;"></div>
<svg class="i" style="left:3538px;top:637px" width="16" height="20" viewBox="0 0 16 20" fill="none" stroke="#c4c5c9" stroke-width="2.2"><path d="M4.4 4.2 L10.8 10 L4.4 15.8"/></svg>
<div class="abs" style="left:998px;top:672px;width:688px;height:272px;overflow:hidden"><svg class="i ch" style="left:-54px;top:0;color:#727272" width="720" height="300" viewBox="944 672 720 300" font-family="'Liberation Mono',monospace"><text x="1304" y="726.6" text-anchor="middle" font-size="24" style="color:#a7a8ac">SpanAttributes...yment.card_type</text><g shape-rendering="crispEdges"><rect x="1226" y="795.8" width="110" height="119.2" fill="#04dc9f"/><rect x="1392" y="734.85" width="110" height="180.15" fill="#f81358"/><rect x="1506" y="853.69" width="110" height="61.31" fill="#04dc9f"/></g><path d="M1072 735.75H1084V915M1072 825.38H1084M1072 870.19H1084" stroke="#6f6f6f" stroke-width="2" fill="none"/><path d="M1072 915H1644" stroke="#6f6f6f" stroke-width="2" fill="none"/><text x="1068.5" y="758.85" text-anchor="end" font-size="22">100</text><text x="1068.5" y="832.98" text-anchor="end" font-size="22">50</text><text x="1068.5" y="877.79" text-anchor="end" font-size="22">25</text><text x="1068.5" y="922.6" text-anchor="end" font-size="22">0</text><text x="1224" y="944.75" text-anchor="middle" font-size="20">mastercard</text><text x="1504" y="944.75" text-anchor="middle" font-size="20">visa</text><path d="M1224 915v12M1504 915v12" stroke="#6f6f6f" stroke-width="2" fill="none"/></svg></div>
<div class="abs" style="left:988px;top:662px;width:708px;height:292px;box-sizing:border-box;border:10px solid #00bda6;box-shadow:0 4px 7px rgba(0,0,0,.75), inset 0 5px 8px rgba(0,0,0,.8), inset 3px 0 5px -2px rgba(0,0,0,.5)"></div>
<svg class="i ch" style="left:1656px;top:672px;color:#727272" width="720" height="300" viewBox="1656 672 720 300" font-family="'Liberation Mono',monospace"><text x="2016" y="726.6" text-anchor="middle" font-size="24" style="color:#a7a8ac">SpanKind</text><g shape-rendering="crispEdges"><rect x="1824" y="909.8" width="110" height="5.2" fill="#f81358"/><rect x="1938" y="823.76" width="110" height="91.24" fill="#04dc9f"/><rect x="2104" y="739.87" width="110" height="175.13" fill="#f81358"/><rect x="2218" y="825.91" width="110" height="89.09" fill="#04dc9f"/></g><path d="M1784 735.75H1796V915M1784 825.38H1796M1784 870.19H1796" stroke="#6f6f6f" stroke-width="2" fill="none"/><path d="M1784 915H2356" stroke="#6f6f6f" stroke-width="2" fill="none"/><text x="1780.5" y="758.85" text-anchor="end" font-size="22">100</text><text x="1780.5" y="832.98" text-anchor="end" font-size="22">50</text><text x="1780.5" y="877.79" text-anchor="end" font-size="22">25</text><text x="1780.5" y="922.6" text-anchor="end" font-size="22">0</text><text x="1936" y="944.75" text-anchor="middle" font-size="20">Internal</text><text x="2216" y="944.75" text-anchor="middle" font-size="20">Server</text><path d="M1936 915v12M2216 915v12" stroke="#6f6f6f" stroke-width="2" fill="none"/></svg>
<svg class="i ch" style="left:2368px;top:672px;color:#727272" width="720" height="300" viewBox="2368 672 720 300" font-family="'Liberation Mono',monospace"><text x="2728" y="726.6" text-anchor="middle" font-size="24" style="color:#a7a8ac">SpanName</text><g shape-rendering="crispEdges"><rect x="2720" y="848.85" width="54" height="66.15" fill="#04dc9f"/><rect x="2802" y="909.8" width="54" height="5.2" fill="#f81358"/><rect x="2860" y="889.72" width="54" height="25.28" fill="#04dc9f"/><rect x="2942" y="739.87" width="54" height="175.13" fill="#f81358"/><rect x="3000" y="825.73" width="54" height="89.27" fill="#04dc9f"/></g><path d="M2496 735.75H2508V915M2496 825.38H2508M2496 870.19H2508" stroke="#6f6f6f" stroke-width="2" fill="none"/><path d="M2496 915H3068" stroke="#6f6f6f" stroke-width="2" fill="none"/><text x="2492.5" y="758.85" text-anchor="end" font-size="22">100</text><text x="2492.5" y="832.98" text-anchor="end" font-size="22">50</text><text x="2492.5" y="877.79" text-anchor="end" font-size="22">25</text><text x="2492.5" y="922.6" text-anchor="end" font-size="22">0</text><text x="3067.5" y="944.75" text-anchor="end" font-size="20">grpc.oteldemo.PaymentService/Charge</text><path d="M2998 915v12" stroke="#6f6f6f" stroke-width="2" fill="none"/></svg>
<svg class="i ch" style="left:944px;top:944px;color:#727272" width="720" height="300" viewBox="944 944 720 300" font-family="'Liberation Mono',monospace"><text x="1304" y="998.6" text-anchor="middle" font-size="24" style="color:#a7a8ac">ScopeName</text><g shape-rendering="crispEdges"><rect x="1179.33" y="1120.85" width="72.67" height="66.15" fill="#04dc9f"/><rect x="1289.33" y="1011.87" width="72.67" height="175.13" fill="#f81358"/><rect x="1366" y="1097.91" width="72.67" height="89.09" fill="#04dc9f"/><rect x="1476" y="1181.8" width="72.67" height="5.2" fill="#f81358"/><rect x="1552.67" y="1161.9" width="72.67" height="25.1" fill="#04dc9f"/></g><path d="M1072 1007.75H1084V1187M1072 1097.38H1084M1072 1142.19H1084" stroke="#6f6f6f" stroke-width="2" fill="none"/><path d="M1072 1187H1644" stroke="#6f6f6f" stroke-width="2" fill="none"/><text x="1068.5" y="1030.85" text-anchor="end" font-size="22">100</text><text x="1068.5" y="1104.97" text-anchor="end" font-size="22">50</text><text x="1068.5" y="1149.79" text-anchor="end" font-size="22">25</text><text x="1068.5" y="1194.6" text-anchor="end" font-size="22">0</text><text x="1177.33" y="1216.75" text-anchor="middle" font-size="20">@hyperdx/instrumentation-exception</text><text x="1550.67" y="1216.75" text-anchor="middle" font-size="20">payment</text><path d="M1177.33 1187v12M1550.67 1187v12" stroke="#6f6f6f" stroke-width="2" fill="none"/></svg>
<svg class="i ch" style="left:1656px;top:944px;color:#727272" width="720" height="300" viewBox="1656 944 720 300" font-family="'Liberation Mono',monospace"><text x="2016" y="998.6" text-anchor="middle" font-size="24" style="color:#a7a8ac">ScopeVersion</text><g shape-rendering="crispEdges"><rect x="1814.67" y="1181.8" width="72.67" height="5.2" fill="#f81358"/><rect x="1891.33" y="1161.9" width="72.67" height="25.1" fill="#04dc9f"/><rect x="2078" y="1120.85" width="72.67" height="66.15" fill="#04dc9f"/><rect x="2188" y="1011.87" width="72.67" height="175.13" fill="#f81358"/><rect x="2264.67" y="1097.91" width="72.67" height="89.09" fill="#04dc9f"/></g><path d="M1784 1007.75H1796V1187M1784 1097.38H1796M1784 1142.19H1796" stroke="#6f6f6f" stroke-width="2" fill="none"/><path d="M1784 1187H2356" stroke="#6f6f6f" stroke-width="2" fill="none"/><text x="1780.5" y="1030.85" text-anchor="end" font-size="22">100</text><text x="1780.5" y="1104.97" text-anchor="end" font-size="22">50</text><text x="1780.5" y="1149.79" text-anchor="end" font-size="22">25</text><text x="1780.5" y="1194.6" text-anchor="end" font-size="22">0</text><text x="2076" y="1216.75" text-anchor="middle" font-size="20">0.1.0</text><text x="2262.67" y="1216.75" text-anchor="middle" font-size="20">0.51.1</text><path d="M1889.33 1187v12M2076 1187v12M2262.67 1187v12" stroke="#6f6f6f" stroke-width="2" fill="none"/></svg>
<svg class="i ch" style="left:2368px;top:944px;color:#727272" width="720" height="300" viewBox="2368 944 720 300" font-family="'Liberation Mono',monospace"><text x="2728" y="998.6" text-anchor="middle" font-size="24" style="color:#a7a8ac">Duration</text><g shape-rendering="crispEdges"></g><path d="M2728 1186.5H2848M2878 1186.5H2948" stroke="#8a3a55" stroke-width="1" fill="none"/><path d="M2496 1007.75H2508V1187M2496 1097.38H2508M2496 1142.19H2508" stroke="#6f8a80" stroke-width="2" fill="none"/><path d="M2496 1187H3068" stroke="#6f8a80" stroke-width="2" fill="none"/><text x="2492.5" y="1030.85" text-anchor="end" font-size="22">40</text><text x="2492.5" y="1104.97" text-anchor="end" font-size="22">20</text><text x="2492.5" y="1149.79" text-anchor="end" font-size="22">10</text><text x="2492.5" y="1194.6" text-anchor="end" font-size="22">0</text><text x="2514.8" y="1216.75" text-anchor="middle" font-size="20">1017268</text><text x="2609" y="1216.75" text-anchor="middle" font-size="20">1530002</text><text x="2717.7" y="1216.75" text-anchor="middle" font-size="20">193574204</text><text x="2823.9" y="1216.75" text-anchor="middle" font-size="20">2274716</text><text x="2925.3" y="1216.75" text-anchor="middle" font-size="20">43863297</text><text x="3067.5" y="1216.75" text-anchor="end" font-size="20">9992314</text><path d="M2514.8 1187v12M2609 1187v12M2717.7 1187v12M2823.9 1187v12M2925.3 1187v12M3067 1187v12" stroke="#6f8a80" stroke-width="2" fill="none"/></svg>
<svg class="i ch" style="left:944px;top:1216px;color:#727272" width="720" height="300" viewBox="944 1216 720 300" font-family="'Liberation Mono',monospace"><text x="1304" y="1270.6" text-anchor="middle" font-size="24" style="color:#a7a8ac">StatusCode</text><g shape-rendering="crispEdges"><rect x="1226" y="1392.85" width="110" height="66.15" fill="#04dc9f"/><rect x="1392" y="1278.85" width="110" height="180.15" fill="#f81358"/><rect x="1506" y="1344.81" width="110" height="114.19" fill="#04dc9f"/></g><path d="M1072 1279.75H1084V1459M1072 1369.38H1084M1072 1414.19H1084" stroke="#6f6f6f" stroke-width="2" fill="none"/><path d="M1072 1459H1644" stroke="#6f6f6f" stroke-width="2" fill="none"/><text x="1068.5" y="1302.85" text-anchor="end" font-size="22">100</text><text x="1068.5" y="1376.97" text-anchor="end" font-size="22">50</text><text x="1068.5" y="1421.79" text-anchor="end" font-size="22">25</text><text x="1068.5" y="1466.6" text-anchor="end" font-size="22">0</text><text x="1224" y="1488.75" text-anchor="middle" font-size="20">Error</text><text x="1504" y="1488.75" text-anchor="middle" font-size="20">Unset</text><path d="M1224 1459v12M1504 1459v12" stroke="#6f6f6f" stroke-width="2" fill="none"/></svg>
<svg class="i ch" style="left:1656px;top:1216px;color:#727272" width="720" height="300" viewBox="1656 1216 720 300" font-family="'Liberation Mono',monospace"><text x="2016" y="1270.6" text-anchor="middle" font-size="24" style="color:#a7a8ac">SpanAttributes.app.loyalty.level</text><g shape-rendering="crispEdges"><rect x="1810" y="1333.82" width="54" height="125.18" fill="#f81358"/><rect x="1868" y="1380.72" width="54" height="78.28" fill="#04dc9f"/><rect x="1950" y="1384.01" width="54" height="74.99" fill="#f81358"/><rect x="2008" y="1384.91" width="54" height="74.09" fill="#04dc9f"/><rect x="2090" y="1408.81" width="54" height="50.19" fill="#f81358"/><rect x="2148" y="1384.91" width="54" height="74.09" fill="#04dc9f"/><rect x="2230" y="1408.81" width="54" height="50.19" fill="#f81358"/><rect x="2288" y="1385.8" width="54" height="73.2" fill="#04dc9f"/></g><path d="M1784 1279.75H1796V1459M1784 1369.38H1796M1784 1414.19H1796" stroke="#6f6f6f" stroke-width="2" fill="none"/><path d="M1784 1459H2356" stroke="#6f6f6f" stroke-width="2" fill="none"/><text x="1780.5" y="1302.85" text-anchor="end" font-size="22">60</text><text x="1780.5" y="1376.97" text-anchor="end" font-size="22">30</text><text x="1780.5" y="1421.79" text-anchor="end" font-size="22">15</text><text x="1780.5" y="1466.6" text-anchor="end" font-size="22">0</text><text x="1866" y="1488.75" text-anchor="middle" font-size="20">bronze</text><text x="2006" y="1488.75" text-anchor="middle" font-size="20">gold</text><text x="2146" y="1488.75" text-anchor="middle" font-size="20">platinum</text><text x="2286" y="1488.75" text-anchor="middle" font-size="20">silver</text><path d="M1866 1459v12M2006 1459v12M2146 1459v12M2286 1459v12" stroke="#6f6f6f" stroke-width="2" fill="none"/></svg>
<svg class="i ch" style="left:2368px;top:1216px;color:#727272" width="720" height="300" viewBox="2368 1216 720 300" font-family="'Liberation Mono',monospace"><text x="2728" y="1270.6" text-anchor="middle" font-size="24" style="color:#a7a8ac">SpanAttributes...yment.timestamp</text><g shape-rendering="crispEdges"></g><g shape-rendering="crispEdges"><rect x="2509" y="1453.5" width="1" height="5.5" fill="#0fd09a"/><rect x="2511.35" y="1453.5" width="1" height="5.5" fill="#0fd09a"/><rect x="2513.7" y="1453.5" width="1" height="5.5" fill="#0fd09a"/><rect x="2516.05" y="1453.5" width="1" height="5.5" fill="#0fd09a"/><rect x="2518.4" y="1453.5" width="1" height="5.5" fill="#0fd09a"/><rect x="2520.75" y="1453.5" width="1" height="5.5" fill="#0fd09a"/><rect x="2523.1" y="1453.5" width="1" height="5.5" fill="#0fd09a"/><rect x="2525.45" y="1453.5" width="1" height="5.5" fill="#0fd09a"/><rect x="2527.8" y="1453.5" width="1" height="5.5" fill="#0fd09a"/><rect x="2530.15" y="1453.5" width="1" height="5.5" fill="#0fd09a"/><rect x="2532.5" y="1453.5" width="1" height="5.5" fill="#0fd09a"/><rect x="2534.85" y="1453.5" width="1" height="5.5" fill="#0fd09a"/><rect x="2537.2" y="1453.5" width="1" height="5.5" fill="#0fd09a"/><rect x="2539.55" y="1453.5" width="1" height="5.5" fill="#0fd09a"/><rect x="2541.9" y="1453.5" width="1" height="5.5" fill="#0fd09a"/><rect x="2544.25" y="1453.5" width="1" height="5.5" fill="#0fd09a"/><rect x="2546.6" y="1453.5" width="1" height="5.5" fill="#0fd09a"/><rect x="2548.95" y="1453.5" width="1" height="5.5" fill="#0fd09a"/><rect x="2551.3" y="1453.5" width="1" height="5.5" fill="#0fd09a"/><rect x="2553.65" y="1453.5" width="1" height="5.5" fill="#0fd09a"/><rect x="2556" y="1453.5" width="1" height="5.5" fill="#0fd09a"/><rect x="2558.35" y="1453.5" width="1" height="5.5" fill="#0fd09a"/><rect x="2560.7" y="1453.5" width="1" height="5.5" fill="#0fd09a"/><rect x="2563.05" y="1453.5" width="1" height="5.5" fill="#0fd09a"/><rect x="2565.4" y="1453.5" width="1" height="5.5" fill="#0fd09a"/><rect x="2567.75" y="1453.5" width="1" height="5.5" fill="#0fd09a"/><rect x="2570.1" y="1453.5" width="1" height="5.5" fill="#0fd09a"/><rect x="2572.45" y="1453.5" width="1" height="5.5" fill="#0fd09a"/><rect x="2574.8" y="1453.5" width="1" height="5.5" fill="#0fd09a"/><rect x="2577.15" y="1453.5" width="1" height="5.5" fill="#0fd09a"/><rect x="2579.5" y="1453.5" width="1" height="5.5" fill="#0fd09a"/><rect x="2581.85" y="1453.5" width="1" height="5.5" fill="#0fd09a"/><rect x="2584.2" y="1453.5" width="1" height="5.5" fill="#0fd09a"/><rect x="2586.55" y="1453.5" width="1" height="5.5" fill="#0fd09a"/><rect x="2588.9" y="1453.5" width="1" height="5.5" fill="#0fd09a"/><rect x="2591.25" y="1453.5" width="1" height="5.5" fill="#0fd09a"/><rect x="2593.6" y="1453.5" width="1" height="5.5" fill="#0fd09a"/><rect x="2595.95" y="1453.5" width="1" height="5.5" fill="#0fd09a"/><rect x="2598.3" y="1453.5" width="1" height="5.5" fill="#0fd09a"/><rect x="2600.65" y="1453.5" width="1" height="5.5" fill="#0fd09a"/><rect x="2603" y="1453.5" width="1" height="5.5" fill="#0fd09a"/><rect x="2605.35" y="1453.5" width="1" height="5.5" fill="#0fd09a"/><rect x="2607.7" y="1453.5" width="1" height="5.5" fill="#0fd09a"/><rect x="2610.05" y="1453.5" width="1" height="5.5" fill="#0fd09a"/><rect x="2612.4" y="1453.5" width="1" height="5.5" fill="#0fd09a"/><rect x="2614.75" y="1453.5" width="1" height="5.5" fill="#0fd09a"/><rect x="2617.1" y="1453.5" width="1" height="5.5" fill="#0fd09a"/><rect x="2619.45" y="1453.5" width="1" height="5.5" fill="#0fd09a"/><rect x="2621.8" y="1453.5" width="1" height="5.5" fill="#0fd09a"/><rect x="2624.15" y="1453.5" width="1" height="5.5" fill="#0fd09a"/><rect x="2626.5" y="1453.5" width="1" height="5.5" fill="#0fd09a"/><rect x="2628.85" y="1453.5" width="1" height="5.5" fill="#0fd09a"/><rect x="2631.2" y="1453.5" width="1" height="5.5" fill="#0fd09a"/><rect x="2633.55" y="1453.5" width="1" height="5.5" fill="#0fd09a"/><rect x="2635.9" y="1453.5" width="1" height="5.5" fill="#0fd09a"/><rect x="2638.25" y="1453.5" width="1" height="5.5" fill="#0fd09a"/><rect x="2640.6" y="1453.5" width="1" height="5.5" fill="#0fd09a"/><rect x="2642.95" y="1453.5" width="1" height="5.5" fill="#0fd09a"/><rect x="2645.3" y="1453.5" width="1" height="5.5" fill="#0fd09a"/><rect x="2647.65" y="1453.5" width="1" height="5.5" fill="#0fd09a"/><rect x="2650" y="1453.5" width="1" height="5.5" fill="#0fd09a"/><rect x="2652.35" y="1453.5" width="1" height="5.5" fill="#0fd09a"/><rect x="2654.7" y="1453.5" width="1" height="5.5" fill="#0fd09a"/><rect x="2657.05" y="1453.5" width="1" height="5.5" fill="#0fd09a"/><rect x="2659.4" y="1453.5" width="1" height="5.5" fill="#0fd09a"/><rect x="2661.75" y="1453.5" width="1" height="5.5" fill="#0fd09a"/><rect x="2664.1" y="1453.5" width="1" height="5.5" fill="#0fd09a"/><rect x="2666.45" y="1453.5" width="1" height="5.5" fill="#0fd09a"/><rect x="2668.8" y="1453.5" width="1" height="5.5" fill="#0fd09a"/><rect x="2671.15" y="1453.5" width="1" height="5.5" fill="#0fd09a"/><rect x="2673.5" y="1453.5" width="1" height="5.5" fill="#0fd09a"/><rect x="2675.85" y="1453.5" width="1" height="5.5" fill="#0fd09a"/><rect x="2678.2" y="1453.5" width="1" height="5.5" fill="#0fd09a"/><rect x="2680.55" y="1453.5" width="1" height="5.5" fill="#0fd09a"/><rect x="2682.9" y="1453.5" width="1" height="5.5" fill="#0fd09a"/><rect x="2685.25" y="1453.5" width="1" height="5.5" fill="#0fd09a"/><rect x="2687.6" y="1453.5" width="1" height="5.5" fill="#0fd09a"/><rect x="2689.95" y="1453.5" width="1" height="5.5" fill="#0fd09a"/><rect x="2692.3" y="1453.5" width="1" height="5.5" fill="#0fd09a"/><rect x="2694.65" y="1453.5" width="1" height="5.5" fill="#0fd09a"/><rect x="2697" y="1453.5" width="1" height="5.5" fill="#0fd09a"/><rect x="2699.35" y="1453.5" width="1" height="5.5" fill="#0fd09a"/><rect x="2701.7" y="1453.5" width="1" height="5.5" fill="#0fd09a"/><rect x="2704.05" y="1453.5" width="1" height="5.5" fill="#0fd09a"/><rect x="2706.4" y="1453.5" width="1" height="5.5" fill="#0fd09a"/><rect x="2708.75" y="1453.5" width="1" height="5.5" fill="#0fd09a"/><rect x="2711.1" y="1453.5" width="1" height="5.5" fill="#0fd09a"/><rect x="2713.45" y="1453.5" width="1" height="5.5" fill="#0fd09a"/><rect x="2715.8" y="1453.5" width="1" height="5.5" fill="#0fd09a"/><rect x="2718.15" y="1453.5" width="1" height="5.5" fill="#0fd09a"/><rect x="2720.5" y="1453.5" width="1" height="5.5" fill="#0fd09a"/><rect x="2722.85" y="1453.5" width="1" height="5.5" fill="#0fd09a"/><rect x="2725.2" y="1453.5" width="1" height="5.5" fill="#0fd09a"/><rect x="2727.55" y="1453.5" width="1" height="5.5" fill="#0fd09a"/><rect x="2729.9" y="1453.5" width="1" height="5.5" fill="#0fd09a"/><rect x="2732.25" y="1453.5" width="1" height="5.5" fill="#0fd09a"/><rect x="2734.6" y="1453.5" width="1" height="5.5" fill="#0fd09a"/><rect x="2736.95" y="1453.5" width="1" height="5.5" fill="#0fd09a"/><rect x="2739.3" y="1453.5" width="1" height="5.5" fill="#0fd09a"/><rect x="2741.65" y="1453.5" width="1" height="5.5" fill="#0fd09a"/><rect x="2744" y="1453.5" width="1" height="5.5" fill="#0fd09a"/><rect x="2746.35" y="1453.5" width="1" height="5.5" fill="#0fd09a"/><rect x="2748.7" y="1453.5" width="1" height="5.5" fill="#0fd09a"/><rect x="2751.05" y="1453.5" width="1" height="5.5" fill="#0fd09a"/><rect x="2753.4" y="1453.5" width="1" height="5.5" fill="#0fd09a"/><rect x="2755.75" y="1453.5" width="1" height="5.5" fill="#0fd09a"/><rect x="2758.1" y="1453.5" width="1" height="5.5" fill="#0fd09a"/><rect x="2760.45" y="1453.5" width="1" height="5.5" fill="#0fd09a"/><rect x="2762.8" y="1453.5" width="1" height="5.5" fill="#0fd09a"/><rect x="2765.15" y="1453.5" width="1" height="5.5" fill="#0fd09a"/><rect x="2767.5" y="1453.5" width="1" height="5.5" fill="#0fd09a"/><rect x="2769.85" y="1453.5" width="1" height="5.5" fill="#0fd09a"/><rect x="2772.2" y="1453.5" width="1" height="5.5" fill="#0fd09a"/><rect x="2774.55" y="1453.5" width="1" height="5.5" fill="#0fd09a"/><rect x="2776.9" y="1453.5" width="1" height="5.5" fill="#0fd09a"/><rect x="2779.25" y="1453.5" width="1" height="5.5" fill="#0fd09a"/><rect x="2781.6" y="1453.5" width="1" height="5.5" fill="#0fd09a"/><rect x="2783.95" y="1453.5" width="1" height="5.5" fill="#0fd09a"/><rect x="2786.3" y="1453.5" width="1" height="5.5" fill="#0fd09a"/><rect x="2788.65" y="1453.5" width="1" height="5.5" fill="#0fd09a"/><rect x="2791" y="1453.5" width="1" height="5.5" fill="#0fd09a"/><rect x="2793.35" y="1453.5" width="1" height="5.5" fill="#0fd09a"/><rect x="2795.7" y="1453.5" width="1" height="5.5" fill="#0fd09a"/><rect x="2798.05" y="1453.5" width="1" height="5.5" fill="#0fd09a"/><rect x="2800.4" y="1453.5" width="1" height="5.5" fill="#0fd09a"/><rect x="2802.75" y="1453.5" width="1" height="5.5" fill="#0fd09a"/><rect x="2805.1" y="1453.5" width="1" height="5.5" fill="#0fd09a"/><rect x="2807.45" y="1453.5" width="1" height="5.5" fill="#0fd09a"/><rect x="2809.8" y="1453.5" width="1" height="5.5" fill="#0fd09a"/><rect x="2812.15" y="1453.5" width="1" height="5.5" fill="#0fd09a"/><rect x="2814.5" y="1453.5" width="1" height="5.5" fill="#0fd09a"/><rect x="2816.85" y="1453.5" width="1" height="5.5" fill="#0fd09a"/><rect x="2819.2" y="1453.5" width="1" height="5.5" fill="#0fd09a"/><rect x="2821.55" y="1453.5" width="1" height="5.5" fill="#0fd09a"/><rect x="2823.9" y="1453.5" width="1" height="5.5" fill="#0fd09a"/><rect x="2826.25" y="1453.5" width="1" height="5.5" fill="#0fd09a"/><rect x="2828.6" y="1453.5" width="1" height="5.5" fill="#0fd09a"/><rect x="2830.95" y="1453.5" width="1" height="5.5" fill="#0fd09a"/><rect x="2833.3" y="1453.5" width="1" height="5.5" fill="#0fd09a"/><rect x="2835.65" y="1453.5" width="1" height="5.5" fill="#0fd09a"/><rect x="2838" y="1453.5" width="1" height="5.5" fill="#0fd09a"/><rect x="2840.35" y="1453.5" width="1" height="5.5" fill="#0fd09a"/><rect x="2842.7" y="1453.5" width="1" height="5.5" fill="#0fd09a"/><rect x="2845.05" y="1453.5" width="1" height="5.5" fill="#0fd09a"/><rect x="2847.4" y="1453.5" width="1" height="5.5" fill="#0fd09a"/><rect x="2849.75" y="1453.5" width="1" height="5.5" fill="#0fd09a"/><rect x="2852.1" y="1453.5" width="1" height="5.5" fill="#0fd09a"/><rect x="2854.45" y="1453.5" width="1" height="5.5" fill="#0fd09a"/><rect x="2856.8" y="1453.5" width="1" height="5.5" fill="#0fd09a"/><rect x="2859.15" y="1453.5" width="1" height="5.5" fill="#0fd09a"/><rect x="2861.5" y="1453.5" width="1" height="5.5" fill="#0fd09a"/><rect x="2863.85" y="1453.5" width="1" height="5.5" fill="#0fd09a"/><rect x="2866.2" y="1453.5" width="1" height="5.5" fill="#0fd09a"/><rect x="2868.55" y="1453.5" width="1" height="5.5" fill="#0fd09a"/><rect x="2870.9" y="1453.5" width="1" height="5.5" fill="#0fd09a"/><rect x="2873.25" y="1453.5" width="1" height="5.5" fill="#0fd09a"/><rect x="2875.6" y="1453.5" width="1" height="5.5" fill="#0fd09a"/><rect x="2877.95" y="1453.5" width="1" height="5.5" fill="#0fd09a"/><rect x="2880.3" y="1453.5" width="1" height="5.5" fill="#0fd09a"/><rect x="2882.65" y="1453.5" width="1" height="5.5" fill="#0fd09a"/><rect x="2885" y="1453.5" width="1" height="5.5" fill="#0fd09a"/><rect x="2887.35" y="1453.5" width="1" height="5.5" fill="#0fd09a"/><rect x="2889.7" y="1453.5" width="1" height="5.5" fill="#0fd09a"/><rect x="2892.05" y="1453.5" width="1" height="5.5" fill="#0fd09a"/><rect x="2894.4" y="1453.5" width="1" height="5.5" fill="#0fd09a"/><rect x="2896.75" y="1453.5" width="1" height="5.5" fill="#0fd09a"/><rect x="2899.1" y="1453.5" width="1" height="5.5" fill="#0fd09a"/><rect x="2901.45" y="1453.5" width="1" height="5.5" fill="#0fd09a"/><rect x="2903.8" y="1453.5" width="1" height="5.5" fill="#0fd09a"/><rect x="2906.15" y="1453.5" width="1" height="5.5" fill="#0fd09a"/><rect x="2908.5" y="1453.5" width="1" height="5.5" fill="#0fd09a"/><rect x="2910.85" y="1453.5" width="1" height="5.5" fill="#0fd09a"/><rect x="2913.2" y="1453.5" width="1" height="5.5" fill="#0fd09a"/><rect x="2915.55" y="1453.5" width="1" height="5.5" fill="#0fd09a"/><rect x="2917.9" y="1453.5" width="1" height="5.5" fill="#0fd09a"/><rect x="2920.25" y="1453.5" width="1" height="5.5" fill="#0fd09a"/><rect x="2922.6" y="1453.5" width="1" height="5.5" fill="#0fd09a"/><rect x="2924.95" y="1453.5" width="1" height="5.5" fill="#0fd09a"/><rect x="2927.3" y="1453.5" width="1" height="5.5" fill="#0fd09a"/><rect x="2929.65" y="1453.5" width="1" height="5.5" fill="#0fd09a"/><rect x="2932" y="1453.5" width="1" height="5.5" fill="#0fd09a"/><rect x="2934.35" y="1453.5" width="1" height="5.5" fill="#0fd09a"/><rect x="2936.7" y="1453.5" width="1" height="5.5" fill="#0fd09a"/><rect x="2939.05" y="1453.5" width="1" height="5.5" fill="#0fd09a"/><rect x="2941.4" y="1453.5" width="1" height="5.5" fill="#0fd09a"/><rect x="2943.75" y="1453.5" width="1" height="5.5" fill="#0fd09a"/><rect x="2946.1" y="1453.5" width="1" height="5.5" fill="#0fd09a"/><rect x="2948.45" y="1453.5" width="1" height="5.5" fill="#0fd09a"/><rect x="2950.8" y="1453.5" width="1" height="5.5" fill="#0fd09a"/><rect x="2953.15" y="1453.5" width="1" height="5.5" fill="#0fd09a"/><rect x="2955.5" y="1453.5" width="1" height="5.5" fill="#0fd09a"/><rect x="2957.85" y="1453.5" width="1" height="5.5" fill="#0fd09a"/><rect x="2960.2" y="1453.5" width="1" height="5.5" fill="#0fd09a"/><rect x="2962.55" y="1453.5" width="1" height="5.5" fill="#0fd09a"/><rect x="2964.9" y="1453.5" width="1" height="5.5" fill="#0fd09a"/><rect x="2967.25" y="1453.5" width="1" height="5.5" fill="#0fd09a"/><rect x="2969.6" y="1453.5" width="1" height="5.5" fill="#0fd09a"/><rect x="2971.95" y="1453.5" width="1" height="5.5" fill="#0fd09a"/><rect x="2974.3" y="1453.5" width="1" height="5.5" fill="#0fd09a"/><rect x="2976.65" y="1453.5" width="1" height="5.5" fill="#0fd09a"/><rect x="2979" y="1453.5" width="1" height="5.5" fill="#0fd09a"/><rect x="2981.35" y="1453.5" width="1" height="5.5" fill="#0fd09a"/><rect x="2983.7" y="1453.5" width="1" height="5.5" fill="#0fd09a"/><rect x="2986.05" y="1453.5" width="1" height="5.5" fill="#0fd09a"/><rect x="2988.4" y="1453.5" width="1" height="5.5" fill="#0fd09a"/><rect x="2990.75" y="1453.5" width="1" height="5.5" fill="#0fd09a"/><rect x="2993.1" y="1453.5" width="1" height="5.5" fill="#0fd09a"/><rect x="2995.45" y="1453.5" width="1" height="5.5" fill="#0fd09a"/><rect x="2997.8" y="1453.5" width="1" height="5.5" fill="#0fd09a"/><rect x="3000.15" y="1453.5" width="1" height="5.5" fill="#0fd09a"/><rect x="3002.5" y="1453.5" width="1" height="5.5" fill="#0fd09a"/><rect x="3004.85" y="1453.5" width="1" height="5.5" fill="#0fd09a"/><rect x="3007.2" y="1453.5" width="1" height="5.5" fill="#0fd09a"/><rect x="3009.55" y="1453.5" width="1" height="5.5" fill="#0fd09a"/><rect x="3011.9" y="1453.5" width="1" height="5.5" fill="#0fd09a"/><rect x="3014.25" y="1453.5" width="1" height="5.5" fill="#0fd09a"/><rect x="3016.6" y="1453.5" width="1" height="5.5" fill="#0fd09a"/><rect x="3018.95" y="1453.5" width="1" height="5.5" fill="#0fd09a"/><rect x="3021.3" y="1453.5" width="1" height="5.5" fill="#0fd09a"/><rect x="3023.65" y="1453.5" width="1" height="5.5" fill="#0fd09a"/><rect x="3026" y="1453.5" width="1" height="5.5" fill="#0fd09a"/><rect x="3028.35" y="1453.5" width="1" height="5.5" fill="#0fd09a"/><rect x="3030.7" y="1453.5" width="1" height="5.5" fill="#0fd09a"/><rect x="3033.05" y="1453.5" width="1" height="5.5" fill="#0fd09a"/><rect x="3035.4" y="1453.5" width="1" height="5.5" fill="#0fd09a"/><rect x="3037.75" y="1453.5" width="1" height="5.5" fill="#0fd09a"/><rect x="3040.1" y="1453.5" width="1" height="5.5" fill="#0fd09a"/><rect x="3042.45" y="1453.5" width="1" height="5.5" fill="#0fd09a"/><rect x="3044.8" y="1453.5" width="1" height="5.5" fill="#0fd09a"/><rect x="3047.15" y="1453.5" width="1" height="5.5" fill="#0fd09a"/><rect x="3049.5" y="1453.5" width="1" height="5.5" fill="#0fd09a"/><rect x="3051.85" y="1453.5" width="1" height="5.5" fill="#0fd09a"/><rect x="3054.2" y="1453.5" width="1" height="5.5" fill="#0fd09a"/><rect x="3056.55" y="1453.5" width="1" height="5.5" fill="#0fd09a"/><rect x="3058.9" y="1453.5" width="1" height="5.5" fill="#0fd09a"/><rect x="3061.25" y="1453.5" width="1" height="5.5" fill="#0fd09a"/><rect x="3063.6" y="1453.5" width="1" height="5.5" fill="#0fd09a"/><rect x="3065.95" y="1453.5" width="1" height="5.5" fill="#0fd09a"/></g><rect x="2582.8" y="1334.57" width="1.2" height="124.43" fill="#b01247"/><rect x="2605.9" y="1334.57" width="1.2" height="124.43" fill="#b01247"/><rect x="2608" y="1334.57" width="1.2" height="124.43" fill="#b01247"/><rect x="2616.8" y="1334.57" width="1.2" height="124.43" fill="#b01247"/><rect x="2633.7" y="1334.57" width="1.2" height="124.43" fill="#b01247"/><rect x="2637.6" y="1334.57" width="1.2" height="124.43" fill="#b01247"/><rect x="2639.6" y="1334.57" width="1.2" height="124.43" fill="#b01247"/><rect x="2643.2" y="1334.57" width="1.2" height="124.43" fill="#b01247"/><rect x="2649" y="1334.57" width="1.2" height="124.43" fill="#b01247"/><rect x="2651" y="1334.57" width="1.2" height="124.43" fill="#b01247"/><rect x="2663.7" y="1334.57" width="1.2" height="124.43" fill="#b01247"/><rect x="2667.9" y="1334.57" width="1.2" height="124.43" fill="#b01247"/><path d="M2496 1279.75H2508V1459M2496 1369.38H2508M2496 1414.19H2508" stroke="#6f6f6f" stroke-width="2" fill="none"/><path d="M2496 1459H3068" stroke="#6f6f6f" stroke-width="2" fill="none"/><text x="2492.5" y="1302.85" text-anchor="end" font-size="22">12</text><text x="2492.5" y="1376.97" text-anchor="end" font-size="22">6</text><text x="2492.5" y="1421.79" text-anchor="end" font-size="22">3</text><text x="2492.5" y="1466.6" text-anchor="end" font-size="22">0</text><text x="2655.7" y="1488.75" text-anchor="middle" font-size="20">1748192425227</text><text x="2823" y="1488.75" text-anchor="middle" font-size="20">1748200955609</text><text x="3067.5" y="1488.75" text-anchor="end" font-size="20">1748210911198</text><path d="M2655.7 1459v12M2823 1459v12M3067 1459v12" stroke="#6f6f6f" stroke-width="2" fill="none"/></svg>
<svg class="i ch" style="left:944px;top:1488px;color:#727272" width="720" height="300" viewBox="944 1488 720 300" font-family="'Liberation Mono',monospace"><text x="1304" y="1542.6" text-anchor="middle" font-size="24" style="color:#a7a8ac">SpanAttributes.cache.size</text><g shape-rendering="crispEdges"></g><rect x="1090" y="1706.05" width="1.5" height="24.95" fill="#04dc9f"/><rect x="1098.12" y="1706.05" width="1.5" height="24.95" fill="#04dc9f"/><rect x="1106.23" y="1706.05" width="1.5" height="24.95" fill="#04dc9f"/><rect x="1114.35" y="1706.05" width="1.5" height="24.95" fill="#04dc9f"/><rect x="1122.46" y="1706.05" width="1.5" height="24.95" fill="#04dc9f"/><rect x="1130.58" y="1706.05" width="1.5" height="24.95" fill="#04dc9f"/><rect x="1138.7" y="1706.05" width="1.5" height="24.95" fill="#04dc9f"/><rect x="1146.81" y="1706.05" width="1.5" height="24.95" fill="#04dc9f"/><rect x="1154.93" y="1706.05" width="1.5" height="24.95" fill="#04dc9f"/><rect x="1163.04" y="1706.05" width="1.5" height="24.95" fill="#04dc9f"/><rect x="1171.16" y="1706.05" width="1.5" height="24.95" fill="#04dc9f"/><rect x="1179.28" y="1706.05" width="1.5" height="24.95" fill="#04dc9f"/><rect x="1187.39" y="1706.05" width="1.5" height="24.95" fill="#04dc9f"/><rect x="1195.51" y="1706.05" width="1.5" height="24.95" fill="#04dc9f"/><rect x="1203.62" y="1706.05" width="1.5" height="24.95" fill="#04dc9f"/><rect x="1211.74" y="1706.05" width="1.5" height="24.95" fill="#04dc9f"/><rect x="1219.86" y="1706.05" width="1.5" height="24.95" fill="#04dc9f"/><rect x="1227.97" y="1706.05" width="1.5" height="24.95" fill="#04dc9f"/><rect x="1236.09" y="1706.05" width="1.5" height="24.95" fill="#04dc9f"/><rect x="1244.2" y="1706.05" width="1.5" height="24.95" fill="#04dc9f"/><rect x="1252.32" y="1706.05" width="1.5" height="24.95" fill="#04dc9f"/><rect x="1260.43" y="1706.05" width="1.5" height="24.95" fill="#04dc9f"/><rect x="1268.55" y="1706.05" width="1.5" height="24.95" fill="#04dc9f"/><rect x="1276.67" y="1706.05" width="1.5" height="24.95" fill="#04dc9f"/><rect x="1284.78" y="1706.05" width="1.5" height="24.95" fill="#04dc9f"/><rect x="1292.9" y="1706.05" width="1.5" height="24.95" fill="#04dc9f"/><rect x="1301.01" y="1706.05" width="1.5" height="24.95" fill="#04dc9f"/><rect x="1309.13" y="1706.05" width="1.5" height="24.95" fill="#04dc9f"/><rect x="1317.25" y="1706.05" width="1.5" height="24.95" fill="#04dc9f"/><rect x="1320.06" y="1606.57" width="1.5" height="124.43" fill="#f81358"/><rect x="1333.48" y="1706.05" width="1.5" height="24.95" fill="#04dc9f"/><rect x="1341.59" y="1706.05" width="1.5" height="24.95" fill="#04dc9f"/><rect x="1349.71" y="1706.05" width="1.5" height="24.95" fill="#04dc9f"/><rect x="1357.83" y="1706.05" width="1.5" height="24.95" fill="#04dc9f"/><rect x="1365.94" y="1706.05" width="1.5" height="24.95" fill="#04dc9f"/><rect x="1374.06" y="1706.05" width="1.5" height="24.95" fill="#04dc9f"/><rect x="1382.17" y="1706.05" width="1.5" height="24.95" fill="#04dc9f"/><rect x="1390.29" y="1706.05" width="1.5" height="24.95" fill="#04dc9f"/><rect x="1398.41" y="1706.05" width="1.5" height="24.95" fill="#04dc9f"/><rect x="1401.22" y="1606.57" width="1.5" height="124.43" fill="#f81358"/><rect x="1409.34" y="1606.57" width="1.5" height="124.43" fill="#f81358"/><rect x="1422.75" y="1706.05" width="1.5" height="24.95" fill="#04dc9f"/><rect x="1430.87" y="1706.05" width="1.5" height="24.95" fill="#04dc9f"/><rect x="1438.99" y="1706.05" width="1.5" height="24.95" fill="#04dc9f"/><rect x="1441.8" y="1606.57" width="1.5" height="124.43" fill="#f81358"/><rect x="1455.22" y="1706.05" width="1.5" height="24.95" fill="#04dc9f"/><rect x="1463.33" y="1706.05" width="1.5" height="24.95" fill="#04dc9f"/><rect x="1471.45" y="1706.05" width="1.5" height="24.95" fill="#04dc9f"/><rect x="1479.57" y="1706.05" width="1.5" height="24.95" fill="#04dc9f"/><rect x="1487.68" y="1706.05" width="1.5" height="24.95" fill="#04dc9f"/><rect x="1495.8" y="1706.05" width="1.5" height="24.95" fill="#04dc9f"/><rect x="1498.61" y="1606.57" width="1.5" height="124.43" fill="#f81358"/><rect x="1506.73" y="1606.57" width="1.5" height="124.43" fill="#f81358"/><rect x="1514.84" y="1606.57" width="1.5" height="124.43" fill="#f81358"/><rect x="1528.26" y="1706.05" width="1.5" height="24.95" fill="#04dc9f"/><rect x="1531.08" y="1606.57" width="1.5" height="124.43" fill="#f81358"/><rect x="1544.49" y="1706.05" width="1.5" height="24.95" fill="#04dc9f"/><rect x="1552.61" y="1706.05" width="1.5" height="24.95" fill="#04dc9f"/><rect x="1555.42" y="1606.57" width="1.5" height="124.43" fill="#f81358"/><rect x="1563.54" y="1606.57" width="1.5" height="124.43" fill="#f81358"/><rect x="1576.96" y="1706.05" width="1.5" height="24.95" fill="#04dc9f"/><rect x="1585.07" y="1706.05" width="1.5" height="24.95" fill="#04dc9f"/><rect x="1593.19" y="1706.05" width="1.5" height="24.95" fill="#04dc9f"/><rect x="1601.3" y="1706.05" width="1.5" height="24.95" fill="#04dc9f"/><rect x="1609.42" y="1706.05" width="1.5" height="24.95" fill="#04dc9f"/><rect x="1612.24" y="1606.57" width="1.5" height="124.43" fill="#f81358"/><rect x="1620.35" y="1606.57" width="1.5" height="124.43" fill="#f81358"/><rect x="1633.77" y="1706.05" width="1.5" height="24.95" fill="#04dc9f"/><rect x="1641.88" y="1706.05" width="1.5" height="24.95" fill="#04dc9f"/><path d="M1072 1551.75H1084V1731M1072 1641.38H1084M1072 1686.19H1084" stroke="#6f6f6f" stroke-width="2" fill="none"/><path d="M1072 1731H1644" stroke="#6f6f6f" stroke-width="2" fill="none"/><text x="1068.5" y="1574.85" text-anchor="end" font-size="22">12</text><text x="1068.5" y="1648.97" text-anchor="end" font-size="22">6</text><text x="1068.5" y="1693.79" text-anchor="end" font-size="22">3</text><text x="1068.5" y="1738.6" text-anchor="end" font-size="22">0</text><text x="1104.29" y="1760.75" text-anchor="middle" font-size="20">92617</text><text x="1177.33" y="1760.75" text-anchor="middle" font-size="20">94155</text><text x="1250.38" y="1760.75" text-anchor="middle" font-size="20">94807</text><text x="1323.42" y="1760.75" text-anchor="middle" font-size="20">96185</text><text x="1396.46" y="1760.75" text-anchor="middle" font-size="20">97097</text><text x="1469.51" y="1760.75" text-anchor="middle" font-size="20">97853</text><text x="1542.55" y="1760.75" text-anchor="middle" font-size="20">98744</text><text x="1643.5" y="1760.75" text-anchor="end" font-size="20">99947</text><path d="M1104.29 1731v12M1177.33 1731v12M1250.38 1731v12M1323.42 1731v12M1396.46 1731v12M1469.51 1731v12M1542.55 1731v12M1639.94 1731v12" stroke="#6f6f6f" stroke-width="2" fill="none"/></svg>
<svg class="i ch" style="left:1656px;top:1488px;color:#727272" width="720" height="300" viewBox="1656 1488 720 300" font-family="'Liberation Mono',monospace"><text x="2016" y="1542.6" text-anchor="middle" font-size="24" style="color:#a7a8ac">Timestamp</text><g shape-rendering="crispEdges"></g><defs><pattern id="pr3" x="1716" width="173" height="8" patternUnits="userSpaceOnUse"><rect width="173" height="8" fill="#2c1824"/><rect x="0" width="1" height="8" fill="#1f1a20"/><rect x="3" width="2" height="8" fill="#6b1639"/><rect x="6" width="1" height="8" fill="#1f1a20"/><rect x="7" width="1" height="8" fill="#1f1a20"/><rect x="9" width="1" height="8" fill="#5a1633"/><rect x="14" width="1" height="8" fill="#6b1639"/><rect x="16" width="1" height="8" fill="#1f1a20"/><rect x="18" width="1" height="8" fill="#4c1730"/><rect x="19" width="1" height="8" fill="#5a1633"/><rect x="24" width="1" height="8" fill="#1f1a20"/><rect x="26" width="2" height="8" fill="#4c1730"/><rect x="38" width="2" height="8" fill="#6b1639"/><rect x="41" width="1" height="8" fill="#6b1639"/><rect x="42" width="1" height="8" fill="#4c1730"/><rect x="43" width="2" height="8" fill="#1f1a20"/><rect x="50" width="2" height="8" fill="#6b1639"/><rect x="52" width="2" height="8" fill="#1f1a20"/><rect x="54" width="1" height="8" fill="#7a183f"/><rect x="56" width="1" height="8" fill="#5a1633"/><rect x="58" width="1" height="8" fill="#4c1730"/><rect x="61" width="2" height="8" fill="#7a183f"/><rect x="67" width="1" height="8" fill="#1f1a20"/><rect x="69" width="1" height="8" fill="#4c1730"/><rect x="71" width="1" height="8" fill="#5a1633"/><rect x="73" width="1" height="8" fill="#7a183f"/><rect x="76" width="1" height="8" fill="#6b1639"/><rect x="77" width="1" height="8" fill="#4c1730"/><rect x="79" width="1" height="8" fill="#7a183f"/><rect x="85" width="1" height="8" fill="#5a1633"/><rect x="86" width="1" height="8" fill="#4c1730"/><rect x="87" width="2" height="8" fill="#7a183f"/><rect x="90" width="1" height="8" fill="#5a1633"/><rect x="92" width="1" height="8" fill="#6b1639"/><rect x="94" width="2" height="8" fill="#7a183f"/><rect x="96" width="2" height="8" fill="#5a1633"/><rect x="99" width="1" height="8" fill="#4c1730"/><rect x="102" width="1" height="8" fill="#4c1730"/><rect x="112" width="1" height="8" fill="#5a1633"/><rect x="114" width="2" height="8" fill="#4c1730"/><rect x="117" width="1" height="8" fill="#6b1639"/><rect x="118" width="2" height="8" fill="#5a1633"/><rect x="121" width="1" height="8" fill="#5a1633"/><rect x="123" width="1" height="8" fill="#4c1730"/><rect x="124" width="1" height="8" fill="#1f1a20"/><rect x="126" width="1" height="8" fill="#7a183f"/><rect x="127" width="1" height="8" fill="#6b1639"/><rect x="130" width="1" height="8" fill="#1f1a20"/><rect x="132" width="1" height="8" fill="#6b1639"/><rect x="134" width="2" height="8" fill="#7a183f"/><rect x="137" width="1" height="8" fill="#6b1639"/><rect x="138" width="2" height="8" fill="#7a183f"/><rect x="147" width="1" height="8" fill="#4c1730"/><rect x="148" width="2" height="8" fill="#6b1639"/><rect x="150" width="1" height="8" fill="#6b1639"/><rect x="155" width="1" height="8" fill="#6b1639"/><rect x="164" width="2" height="8" fill="#6b1639"/><rect x="167" width="1" height="8" fill="#1f1a20"/></pattern><pattern id="pg3" x="1716" width="173" height="8" patternUnits="userSpaceOnUse"><rect width="173" height="8" fill="#106e56"/><rect x="9" width="1" height="8" fill="#4f4a54"/><rect x="14" width="1" height="8" fill="#3f5a52"/><rect x="19" width="1" height="8" fill="#64203e"/><rect x="26" width="2" height="8" fill="#64203e"/><rect x="38" width="2" height="8" fill="#1a7a60"/><rect x="41" width="1" height="8" fill="#4f4a54"/><rect x="50" width="2" height="8" fill="#3f5a52"/><rect x="54" width="1" height="8" fill="#3f5a52"/><rect x="58" width="1" height="8" fill="#45454b"/><rect x="61" width="2" height="8" fill="#1a7a60"/><rect x="71" width="1" height="8" fill="#1a7a60"/><rect x="73" width="1" height="8" fill="#64203e"/><rect x="77" width="1" height="8" fill="#45454b"/><rect x="79" width="1" height="8" fill="#45454b"/><rect x="85" width="1" height="8" fill="#64203e"/><rect x="86" width="1" height="8" fill="#3f5a52"/><rect x="87" width="2" height="8" fill="#4f4a54"/><rect x="92" width="1" height="8" fill="#4f4a54"/><rect x="94" width="2" height="8" fill="#1a7a60"/><rect x="96" width="2" height="8" fill="#45454b"/><rect x="99" width="1" height="8" fill="#45454b"/><rect x="102" width="1" height="8" fill="#1a7a60"/><rect x="114" width="2" height="8" fill="#4f4a54"/><rect x="117" width="1" height="8" fill="#2a6352"/><rect x="118" width="2" height="8" fill="#45454b"/><rect x="121" width="1" height="8" fill="#3f5a52"/><rect x="123" width="1" height="8" fill="#64203e"/><rect x="126" width="1" height="8" fill="#3f5a52"/><rect x="127" width="1" height="8" fill="#3f5a52"/><rect x="132" width="1" height="8" fill="#1a7a60"/><rect x="134" width="2" height="8" fill="#64203e"/><rect x="137" width="1" height="8" fill="#2a6352"/><rect x="138" width="2" height="8" fill="#1a7a60"/><rect x="147" width="1" height="8" fill="#4f4a54"/><rect x="164" width="2" height="8" fill="#4f4a54"/></pattern></defs><g shape-rendering="crispEdges"><rect x="1811" y="1666.62" width="520" height="33.61" fill="url(#pr3)"/><rect x="1797" y="1700.22" width="559" height="29.78" fill="#106e56"/><rect x="1811" y="1700.22" width="520" height="29.78" fill="url(#pg3)"/><rect x="1817" y="1603.52" width="1" height="63.99" fill="#3a1528"/><rect x="1824" y="1603.52" width="1" height="63.99" fill="#3a1528"/><rect x="1832" y="1603.52" width="1" height="63.99" fill="#3a1528"/></g><path d="M1784 1551.75H1796V1731M1784 1641.38H1796M1784 1686.19H1796" stroke="#6f6f6f" stroke-width="2" fill="none"/><path d="M1784 1731H2356" stroke="#6f6f6f" stroke-width="2" fill="none"/><text x="1780.5" y="1574.85" text-anchor="end" font-size="22">0.6</text><text x="1780.5" y="1648.97" text-anchor="end" font-size="22">0.3</text><text x="1780.5" y="1693.79" text-anchor="end" font-size="22">0.15</text><text x="1780.5" y="1738.6" text-anchor="end" font-size="22">0</text><text x="2355.5" y="1760.75" text-anchor="end" font-size="20">2025-05-27T04:09:31.196820000Z</text><path d="M2355 1731v12" stroke="#6f6f6f" stroke-width="2" fill="none"/></svg>
<svg class="i ch" style="left:2368px;top:1488px;color:#727272" width="720" height="300" viewBox="2368 1488 720 300" font-family="'Liberation Mono',monospace"><text x="2728" y="1542.6" text-anchor="middle" font-size="24" style="color:#a7a8ac">TraceId</text><g shape-rendering="crispEdges"></g><defs><pattern id="pr5" x="2428" width="173" height="8" patternUnits="userSpaceOnUse"><rect width="173" height="8" fill="#2c1824"/><rect x="0" width="2" height="8" fill="#7a183f"/><rect x="4" width="2" height="8" fill="#4c1730"/><rect x="9" width="1" height="8" fill="#5a1633"/><rect x="11" width="1" height="8" fill="#5a1633"/><rect x="14" width="1" height="8" fill="#1f1a20"/><rect x="16" width="1" height="8" fill="#6b1639"/><rect x="17" width="1" height="8" fill="#5a1633"/><rect x="20" width="1" height="8" fill="#5a1633"/><rect x="22" width="1" height="8" fill="#4c1730"/><rect x="24" width="1" height="8" fill="#6b1639"/><rect x="26" width="1" height="8" fill="#7a183f"/><rect x="27" width="1" height="8" fill="#5a1633"/><rect x="34" width="1" height="8" fill="#1f1a20"/><rect x="35" width="1" height="8" fill="#5a1633"/><rect x="38" width="1" height="8" fill="#1f1a20"/><rect x="44" width="1" height="8" fill="#6b1639"/><rect x="50" width="1" height="8" fill="#7a183f"/><rect x="55" width="1" height="8" fill="#6b1639"/><rect x="57" width="1" height="8" fill="#7a183f"/><rect x="59" width="1" height="8" fill="#6b1639"/><rect x="61" width="1" height="8" fill="#5a1633"/><rect x="62" width="1" height="8" fill="#5a1633"/><rect x="64" width="1" height="8" fill="#5a1633"/><rect x="68" width="1" height="8" fill="#4c1730"/><rect x="73" width="1" height="8" fill="#4c1730"/><rect x="75" width="1" height="8" fill="#7a183f"/><rect x="76" width="1" height="8" fill="#7a183f"/><rect x="80" width="1" height="8" fill="#1f1a20"/><rect x="81" width="1" height="8" fill="#1f1a20"/><rect x="88" width="1" height="8" fill="#7a183f"/><rect x="95" width="2" height="8" fill="#5a1633"/><rect x="101" width="1" height="8" fill="#4c1730"/><rect x="105" width="1" height="8" fill="#4c1730"/><rect x="111" width="1" height="8" fill="#1f1a20"/><rect x="113" width="1" height="8" fill="#6b1639"/><rect x="116" width="1" height="8" fill="#4c1730"/><rect x="122" width="2" height="8" fill="#7a183f"/><rect x="126" width="1" height="8" fill="#7a183f"/><rect x="128" width="1" height="8" fill="#1f1a20"/><rect x="129" width="1" height="8" fill="#1f1a20"/><rect x="131" width="1" height="8" fill="#7a183f"/><rect x="133" width="1" height="8" fill="#4c1730"/><rect x="135" width="1" height="8" fill="#4c1730"/><rect x="137" width="2" height="8" fill="#7a183f"/><rect x="142" width="1" height="8" fill="#4c1730"/><rect x="143" width="1" height="8" fill="#7a183f"/><rect x="144" width="1" height="8" fill="#5a1633"/><rect x="146" width="1" height="8" fill="#1f1a20"/><rect x="151" width="1" height="8" fill="#5a1633"/><rect x="154" width="1" height="8" fill="#1f1a20"/><rect x="157" width="2" height="8" fill="#7a183f"/><rect x="160" width="1" height="8" fill="#7a183f"/><rect x="161" width="2" height="8" fill="#4c1730"/><rect x="170" width="1" height="8" fill="#5a1633"/><rect x="172" width="1" height="8" fill="#6b1639"/></pattern><pattern id="pg5" x="2428" width="173" height="8" patternUnits="userSpaceOnUse"><rect width="173" height="8" fill="#106e56"/><rect x="0" width="2" height="8" fill="#1a7a60"/><rect x="4" width="2" height="8" fill="#4f4a54"/><rect x="9" width="1" height="8" fill="#3f5a52"/><rect x="11" width="1" height="8" fill="#4f4a54"/><rect x="16" width="1" height="8" fill="#4f4a54"/><rect x="17" width="1" height="8" fill="#1a7a60"/><rect x="22" width="1" height="8" fill="#4f4a54"/><rect x="24" width="1" height="8" fill="#1a7a60"/><rect x="26" width="1" height="8" fill="#64203e"/><rect x="27" width="1" height="8" fill="#3f5a52"/><rect x="35" width="1" height="8" fill="#4f4a54"/><rect x="44" width="1" height="8" fill="#45454b"/><rect x="50" width="1" height="8" fill="#3f5a52"/><rect x="55" width="1" height="8" fill="#45454b"/><rect x="61" width="1" height="8" fill="#2a6352"/><rect x="62" width="1" height="8" fill="#2a6352"/><rect x="68" width="1" height="8" fill="#4f4a54"/><rect x="73" width="1" height="8" fill="#45454b"/><rect x="75" width="1" height="8" fill="#1a7a60"/><rect x="88" width="1" height="8" fill="#2a6352"/><rect x="95" width="2" height="8" fill="#64203e"/><rect x="101" width="1" height="8" fill="#45454b"/><rect x="105" width="1" height="8" fill="#4f4a54"/><rect x="113" width="1" height="8" fill="#4f4a54"/><rect x="122" width="2" height="8" fill="#64203e"/><rect x="126" width="1" height="8" fill="#4f4a54"/><rect x="131" width="1" height="8" fill="#45454b"/><rect x="133" width="1" height="8" fill="#4f4a54"/><rect x="135" width="1" height="8" fill="#4f4a54"/><rect x="137" width="2" height="8" fill="#2a6352"/><rect x="142" width="1" height="8" fill="#3f5a52"/><rect x="143" width="1" height="8" fill="#2a6352"/><rect x="144" width="1" height="8" fill="#64203e"/><rect x="151" width="1" height="8" fill="#45454b"/><rect x="157" width="2" height="8" fill="#1a7a60"/><rect x="160" width="1" height="8" fill="#1a7a60"/><rect x="161" width="2" height="8" fill="#2a6352"/><rect x="172" width="1" height="8" fill="#2a6352"/></pattern></defs><g shape-rendering="crispEdges"><rect x="2511" y="1666.62" width="557" height="33.61" fill="url(#pr5)"/><rect x="2509" y="1700.22" width="559" height="29.78" fill="#106e56"/><rect x="2511" y="1700.22" width="557" height="29.78" fill="url(#pg5)"/><rect x="2573" y="1603.52" width="1" height="63.99" fill="#3a1528"/><rect x="2587" y="1603.52" width="1" height="63.99" fill="#3a1528"/><rect x="2599" y="1603.52" width="1" height="63.99" fill="#3a1528"/><rect x="2624" y="1603.52" width="1" height="63.99" fill="#3a1528"/><rect x="2659" y="1603.52" width="1" height="63.99" fill="#3a1528"/><rect x="2703" y="1603.52" width="1" height="63.99" fill="#3a1528"/><rect x="2744" y="1603.52" width="1" height="63.99" fill="#3a1528"/><rect x="2827" y="1603.52" width="1" height="63.99" fill="#3a1528"/><rect x="2862" y="1603.52" width="1" height="63.99" fill="#3a1528"/><rect x="2882" y="1603.52" width="1" height="63.99" fill="#3a1528"/><rect x="2918" y="1603.52" width="1" height="63.99" fill="#3a1528"/><rect x="3064" y="1603.52" width="1" height="63.99" fill="#3a1528"/></g><path d="M2496 1551.75H2508V1731M2496 1641.38H2508M2496 1686.19H2508" stroke="#6f6f6f" stroke-width="2" fill="none"/><path d="M2496 1731H3068" stroke="#6f6f6f" stroke-width="2" fill="none"/><text x="2492.5" y="1574.85" text-anchor="end" font-size="22">0.6</text><text x="2492.5" y="1648.97" text-anchor="end" font-size="22">0.3</text><text x="2492.5" y="1693.79" text-anchor="end" font-size="22">0.15</text><text x="2492.5" y="1738.6" text-anchor="end" font-size="22">0</text><text x="3067.5" y="1760.75" text-anchor="end" font-size="20">ff736674e4a9348c43e8158132b40ce2</text><path d="M3067 1731v12" stroke="#6f6f6f" stroke-width="2" fill="none"/></svg>
<div id="frametop"></div><div id="frame"></div></div></body></html>
